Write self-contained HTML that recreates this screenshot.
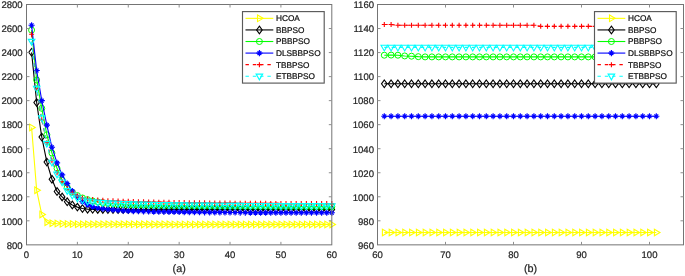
<!DOCTYPE html>
<html><head><meta charset="utf-8"><title>chart</title>
<style>html,body{margin:0;padding:0;background:#fff;}body{width:685px;height:276px;overflow:hidden;font-family:"Liberation Sans",sans-serif;}svg{display:block;will-change:transform;opacity:0.999;}text{text-rendering:geometricPrecision;stroke:#262626;stroke-width:0.22px;}</style>
</head><body>
<svg width="685" height="276" viewBox="0 0 685 276" font-family="'Liberation Sans', sans-serif">
<rect width="100%" height="100%" fill="#fff"/>
<g clip-path="none">
<path d="M31.59 127.44 L36.68 190.29 L41.77 214.45 L46.85 222.14 L51.94 223.22 L57.03 223.58 L62.12 223.82 L67.21 223.94 L72.3 224.06 L77.38 224.18 L82.47 224.21 L87.56 224.23 L92.65 224.26 L97.74 224.27 L102.83 224.29 L107.91 224.31 L113 224.32 L118.09 224.33 L123.18 224.34 L128.27 224.35 L133.36 224.36 L138.44 224.37 L143.53 224.37 L148.62 224.38 L153.71 224.38 L158.8 224.39 L163.89 224.39 L168.97 224.39 L174.06 224.4 L179.15 224.4 L184.24 224.4 L189.33 224.4 L194.42 224.41 L199.5 224.41 L204.59 224.41 L209.68 224.41 L214.77 224.41 L219.86 224.41 L224.95 224.41 L230.03 224.41 L235.12 224.42 L240.21 224.42 L245.3 224.42 L250.39 224.42 L255.48 224.42 L260.56 224.42 L265.65 224.42 L270.74 224.42 L275.83 224.42 L280.92 224.42 L286 224.42 L291.09 224.42 L296.18 224.42 L301.27 224.42 L306.36 224.42 L311.45 224.42 L316.54 224.42 L321.62 224.42 L326.71 224.42 L331.8 224.42" fill="none" stroke="#ffff00" stroke-width="1.1" stroke-linejoin="round"/>
<path d="M29.69 124.14 L35.29 127.44 L29.69 130.74 Z" fill="none" stroke="#ffff00" stroke-width="1.1"/>
<path d="M34.78 186.99 L40.38 190.29 L34.78 193.59 Z" fill="none" stroke="#ffff00" stroke-width="1.1"/>
<path d="M39.87 211.15 L45.47 214.45 L39.87 217.75 Z" fill="none" stroke="#ffff00" stroke-width="1.1"/>
<path d="M44.95 218.84 L50.55 222.14 L44.95 225.44 Z" fill="none" stroke="#ffff00" stroke-width="1.1"/>
<path d="M50.04 219.92 L55.64 223.22 L50.04 226.52 Z" fill="none" stroke="#ffff00" stroke-width="1.1"/>
<path d="M55.13 220.28 L60.73 223.58 L55.13 226.88 Z" fill="none" stroke="#ffff00" stroke-width="1.1"/>
<path d="M60.22 220.52 L65.82 223.82 L60.22 227.12 Z" fill="none" stroke="#ffff00" stroke-width="1.1"/>
<path d="M65.31 220.64 L70.91 223.94 L65.31 227.24 Z" fill="none" stroke="#ffff00" stroke-width="1.1"/>
<path d="M70.39 220.76 L76 224.06 L70.39 227.36 Z" fill="none" stroke="#ffff00" stroke-width="1.1"/>
<path d="M75.48 220.88 L81.08 224.18 L75.48 227.48 Z" fill="none" stroke="#ffff00" stroke-width="1.1"/>
<path d="M80.57 220.91 L86.17 224.21 L80.57 227.51 Z" fill="none" stroke="#ffff00" stroke-width="1.1"/>
<path d="M85.66 220.93 L91.26 224.23 L85.66 227.53 Z" fill="none" stroke="#ffff00" stroke-width="1.1"/>
<path d="M90.75 220.96 L96.35 224.26 L90.75 227.56 Z" fill="none" stroke="#ffff00" stroke-width="1.1"/>
<path d="M95.84 220.97 L101.44 224.27 L95.84 227.57 Z" fill="none" stroke="#ffff00" stroke-width="1.1"/>
<path d="M100.92 220.99 L106.53 224.29 L100.92 227.59 Z" fill="none" stroke="#ffff00" stroke-width="1.1"/>
<path d="M106.01 221.01 L111.61 224.31 L106.01 227.61 Z" fill="none" stroke="#ffff00" stroke-width="1.1"/>
<path d="M111.1 221.02 L116.7 224.32 L111.1 227.62 Z" fill="none" stroke="#ffff00" stroke-width="1.1"/>
<path d="M116.19 221.03 L121.79 224.33 L116.19 227.63 Z" fill="none" stroke="#ffff00" stroke-width="1.1"/>
<path d="M121.28 221.04 L126.88 224.34 L121.28 227.64 Z" fill="none" stroke="#ffff00" stroke-width="1.1"/>
<path d="M126.37 221.05 L131.97 224.35 L126.37 227.65 Z" fill="none" stroke="#ffff00" stroke-width="1.1"/>
<path d="M131.46 221.06 L137.06 224.36 L131.46 227.66 Z" fill="none" stroke="#ffff00" stroke-width="1.1"/>
<path d="M136.54 221.07 L142.14 224.37 L136.54 227.67 Z" fill="none" stroke="#ffff00" stroke-width="1.1"/>
<path d="M141.63 221.07 L147.23 224.37 L141.63 227.67 Z" fill="none" stroke="#ffff00" stroke-width="1.1"/>
<path d="M146.72 221.08 L152.32 224.38 L146.72 227.68 Z" fill="none" stroke="#ffff00" stroke-width="1.1"/>
<path d="M151.81 221.08 L157.41 224.38 L151.81 227.68 Z" fill="none" stroke="#ffff00" stroke-width="1.1"/>
<path d="M156.9 221.09 L162.5 224.39 L156.9 227.69 Z" fill="none" stroke="#ffff00" stroke-width="1.1"/>
<path d="M161.99 221.09 L167.59 224.39 L161.99 227.69 Z" fill="none" stroke="#ffff00" stroke-width="1.1"/>
<path d="M167.07 221.09 L172.67 224.39 L167.07 227.69 Z" fill="none" stroke="#ffff00" stroke-width="1.1"/>
<path d="M172.16 221.1 L177.76 224.4 L172.16 227.7 Z" fill="none" stroke="#ffff00" stroke-width="1.1"/>
<path d="M177.25 221.1 L182.85 224.4 L177.25 227.7 Z" fill="none" stroke="#ffff00" stroke-width="1.1"/>
<path d="M182.34 221.1 L187.94 224.4 L182.34 227.7 Z" fill="none" stroke="#ffff00" stroke-width="1.1"/>
<path d="M187.43 221.1 L193.03 224.4 L187.43 227.7 Z" fill="none" stroke="#ffff00" stroke-width="1.1"/>
<path d="M192.52 221.11 L198.12 224.41 L192.52 227.71 Z" fill="none" stroke="#ffff00" stroke-width="1.1"/>
<path d="M197.6 221.11 L203.2 224.41 L197.6 227.71 Z" fill="none" stroke="#ffff00" stroke-width="1.1"/>
<path d="M202.69 221.11 L208.29 224.41 L202.69 227.71 Z" fill="none" stroke="#ffff00" stroke-width="1.1"/>
<path d="M207.78 221.11 L213.38 224.41 L207.78 227.71 Z" fill="none" stroke="#ffff00" stroke-width="1.1"/>
<path d="M212.87 221.11 L218.47 224.41 L212.87 227.71 Z" fill="none" stroke="#ffff00" stroke-width="1.1"/>
<path d="M217.96 221.11 L223.56 224.41 L217.96 227.71 Z" fill="none" stroke="#ffff00" stroke-width="1.1"/>
<path d="M223.05 221.11 L228.65 224.41 L223.05 227.71 Z" fill="none" stroke="#ffff00" stroke-width="1.1"/>
<path d="M228.13 221.11 L233.73 224.41 L228.13 227.71 Z" fill="none" stroke="#ffff00" stroke-width="1.1"/>
<path d="M233.22 221.12 L238.82 224.42 L233.22 227.72 Z" fill="none" stroke="#ffff00" stroke-width="1.1"/>
<path d="M238.31 221.12 L243.91 224.42 L238.31 227.72 Z" fill="none" stroke="#ffff00" stroke-width="1.1"/>
<path d="M243.4 221.12 L249 224.42 L243.4 227.72 Z" fill="none" stroke="#ffff00" stroke-width="1.1"/>
<path d="M248.49 221.12 L254.09 224.42 L248.49 227.72 Z" fill="none" stroke="#ffff00" stroke-width="1.1"/>
<path d="M253.58 221.12 L259.18 224.42 L253.58 227.72 Z" fill="none" stroke="#ffff00" stroke-width="1.1"/>
<path d="M258.66 221.12 L264.26 224.42 L258.66 227.72 Z" fill="none" stroke="#ffff00" stroke-width="1.1"/>
<path d="M263.75 221.12 L269.35 224.42 L263.75 227.72 Z" fill="none" stroke="#ffff00" stroke-width="1.1"/>
<path d="M268.84 221.12 L274.44 224.42 L268.84 227.72 Z" fill="none" stroke="#ffff00" stroke-width="1.1"/>
<path d="M273.93 221.12 L279.53 224.42 L273.93 227.72 Z" fill="none" stroke="#ffff00" stroke-width="1.1"/>
<path d="M279.02 221.12 L284.62 224.42 L279.02 227.72 Z" fill="none" stroke="#ffff00" stroke-width="1.1"/>
<path d="M284.11 221.12 L289.7 224.42 L284.11 227.72 Z" fill="none" stroke="#ffff00" stroke-width="1.1"/>
<path d="M289.19 221.12 L294.79 224.42 L289.19 227.72 Z" fill="none" stroke="#ffff00" stroke-width="1.1"/>
<path d="M294.28 221.12 L299.88 224.42 L294.28 227.72 Z" fill="none" stroke="#ffff00" stroke-width="1.1"/>
<path d="M299.37 221.12 L304.97 224.42 L299.37 227.72 Z" fill="none" stroke="#ffff00" stroke-width="1.1"/>
<path d="M304.46 221.12 L310.06 224.42 L304.46 227.72 Z" fill="none" stroke="#ffff00" stroke-width="1.1"/>
<path d="M309.55 221.12 L315.15 224.42 L309.55 227.72 Z" fill="none" stroke="#ffff00" stroke-width="1.1"/>
<path d="M314.64 221.12 L320.24 224.42 L314.64 227.72 Z" fill="none" stroke="#ffff00" stroke-width="1.1"/>
<path d="M319.72 221.12 L325.32 224.42 L319.72 227.72 Z" fill="none" stroke="#ffff00" stroke-width="1.1"/>
<path d="M324.81 221.12 L330.41 224.42 L324.81 227.72 Z" fill="none" stroke="#ffff00" stroke-width="1.1"/>
<path d="M329.9 221.12 L335.5 224.42 L329.9 227.72 Z" fill="none" stroke="#ffff00" stroke-width="1.1"/>
<path d="M31.59 52.33 L36.68 102.56 L41.77 137.05 L46.85 162.05 L51.94 179.23 L57.03 191.49 L62.12 196.9 L67.21 201.71 L72.3 204.95 L77.38 207.12 L82.47 208.56 L87.56 209.16 L92.65 209.34 L97.74 209.4 L102.83 209.42 L107.91 209.44 L113 209.45 L118.09 209.46 L123.18 209.47 L128.27 209.48 L133.36 209.49 L138.44 209.49 L143.53 209.5 L148.62 209.5 L153.71 209.51 L158.8 209.51 L163.89 209.51 L168.97 209.51 L174.06 209.51 L179.15 209.51 L184.24 209.51 L189.33 209.52 L194.42 209.52 L199.5 209.52 L204.59 209.52 L209.68 209.52 L214.77 209.52 L219.86 209.52 L224.95 209.52 L230.03 209.52 L235.12 209.52 L240.21 209.52 L245.3 209.52 L250.39 209.52 L255.48 209.52 L260.56 209.52 L265.65 209.52 L270.74 209.52 L275.83 209.52 L280.92 209.52 L286 209.52 L291.09 209.52 L296.18 209.52 L301.27 209.52 L306.36 209.52 L311.45 209.52 L316.54 209.52 L321.62 209.52 L326.71 209.52 L331.8 209.52" fill="none" stroke="#000000" stroke-width="1.1" stroke-linejoin="round"/>
<path d="M31.59 48.53 L34.39 52.33 L31.59 56.13 L28.79 52.33 Z" fill="none" stroke="#000000" stroke-width="1.1"/>
<path d="M36.68 98.76 L39.48 102.56 L36.68 106.36 L33.88 102.56 Z" fill="none" stroke="#000000" stroke-width="1.1"/>
<path d="M41.77 133.25 L44.56 137.05 L41.77 140.85 L38.97 137.05 Z" fill="none" stroke="#000000" stroke-width="1.1"/>
<path d="M46.85 158.25 L49.65 162.05 L46.85 165.85 L44.05 162.05 Z" fill="none" stroke="#000000" stroke-width="1.1"/>
<path d="M51.94 175.43 L54.74 179.23 L51.94 183.03 L49.14 179.23 Z" fill="none" stroke="#000000" stroke-width="1.1"/>
<path d="M57.03 187.69 L59.83 191.49 L57.03 195.29 L54.23 191.49 Z" fill="none" stroke="#000000" stroke-width="1.1"/>
<path d="M62.12 193.1 L64.92 196.9 L62.12 200.7 L59.32 196.9 Z" fill="none" stroke="#000000" stroke-width="1.1"/>
<path d="M67.21 197.91 L70.01 201.71 L67.21 205.51 L64.41 201.71 Z" fill="none" stroke="#000000" stroke-width="1.1"/>
<path d="M72.3 201.15 L75.09 204.95 L72.3 208.75 L69.5 204.95 Z" fill="none" stroke="#000000" stroke-width="1.1"/>
<path d="M77.38 203.32 L80.18 207.12 L77.38 210.92 L74.58 207.12 Z" fill="none" stroke="#000000" stroke-width="1.1"/>
<path d="M82.47 204.76 L85.27 208.56 L82.47 212.36 L79.67 208.56 Z" fill="none" stroke="#000000" stroke-width="1.1"/>
<path d="M87.56 205.36 L90.36 209.16 L87.56 212.96 L84.76 209.16 Z" fill="none" stroke="#000000" stroke-width="1.1"/>
<path d="M92.65 205.54 L95.45 209.34 L92.65 213.14 L89.85 209.34 Z" fill="none" stroke="#000000" stroke-width="1.1"/>
<path d="M97.74 205.6 L100.54 209.4 L97.74 213.2 L94.94 209.4 Z" fill="none" stroke="#000000" stroke-width="1.1"/>
<path d="M102.83 205.62 L105.62 209.42 L102.83 213.22 L100.03 209.42 Z" fill="none" stroke="#000000" stroke-width="1.1"/>
<path d="M107.91 205.64 L110.71 209.44 L107.91 213.24 L105.11 209.44 Z" fill="none" stroke="#000000" stroke-width="1.1"/>
<path d="M113 205.65 L115.8 209.45 L113 213.25 L110.2 209.45 Z" fill="none" stroke="#000000" stroke-width="1.1"/>
<path d="M118.09 205.66 L120.89 209.46 L118.09 213.26 L115.29 209.46 Z" fill="none" stroke="#000000" stroke-width="1.1"/>
<path d="M123.18 205.67 L125.98 209.47 L123.18 213.27 L120.38 209.47 Z" fill="none" stroke="#000000" stroke-width="1.1"/>
<path d="M128.27 205.68 L131.07 209.48 L128.27 213.28 L125.47 209.48 Z" fill="none" stroke="#000000" stroke-width="1.1"/>
<path d="M133.36 205.69 L136.16 209.49 L133.36 213.29 L130.56 209.49 Z" fill="none" stroke="#000000" stroke-width="1.1"/>
<path d="M138.44 205.69 L141.24 209.49 L138.44 213.29 L135.64 209.49 Z" fill="none" stroke="#000000" stroke-width="1.1"/>
<path d="M143.53 205.7 L146.33 209.5 L143.53 213.3 L140.73 209.5 Z" fill="none" stroke="#000000" stroke-width="1.1"/>
<path d="M148.62 205.7 L151.42 209.5 L148.62 213.3 L145.82 209.5 Z" fill="none" stroke="#000000" stroke-width="1.1"/>
<path d="M153.71 205.71 L156.51 209.51 L153.71 213.31 L150.91 209.51 Z" fill="none" stroke="#000000" stroke-width="1.1"/>
<path d="M158.8 205.71 L161.6 209.51 L158.8 213.31 L156 209.51 Z" fill="none" stroke="#000000" stroke-width="1.1"/>
<path d="M163.89 205.71 L166.69 209.51 L163.89 213.31 L161.09 209.51 Z" fill="none" stroke="#000000" stroke-width="1.1"/>
<path d="M168.97 205.71 L171.77 209.51 L168.97 213.31 L166.17 209.51 Z" fill="none" stroke="#000000" stroke-width="1.1"/>
<path d="M174.06 205.71 L176.86 209.51 L174.06 213.31 L171.26 209.51 Z" fill="none" stroke="#000000" stroke-width="1.1"/>
<path d="M179.15 205.71 L181.95 209.51 L179.15 213.31 L176.35 209.51 Z" fill="none" stroke="#000000" stroke-width="1.1"/>
<path d="M184.24 205.71 L187.04 209.51 L184.24 213.31 L181.44 209.51 Z" fill="none" stroke="#000000" stroke-width="1.1"/>
<path d="M189.33 205.72 L192.13 209.52 L189.33 213.32 L186.53 209.52 Z" fill="none" stroke="#000000" stroke-width="1.1"/>
<path d="M194.42 205.72 L197.22 209.52 L194.42 213.32 L191.62 209.52 Z" fill="none" stroke="#000000" stroke-width="1.1"/>
<path d="M199.5 205.72 L202.3 209.52 L199.5 213.32 L196.7 209.52 Z" fill="none" stroke="#000000" stroke-width="1.1"/>
<path d="M204.59 205.72 L207.39 209.52 L204.59 213.32 L201.79 209.52 Z" fill="none" stroke="#000000" stroke-width="1.1"/>
<path d="M209.68 205.72 L212.48 209.52 L209.68 213.32 L206.88 209.52 Z" fill="none" stroke="#000000" stroke-width="1.1"/>
<path d="M214.77 205.72 L217.57 209.52 L214.77 213.32 L211.97 209.52 Z" fill="none" stroke="#000000" stroke-width="1.1"/>
<path d="M219.86 205.72 L222.66 209.52 L219.86 213.32 L217.06 209.52 Z" fill="none" stroke="#000000" stroke-width="1.1"/>
<path d="M224.95 205.72 L227.75 209.52 L224.95 213.32 L222.15 209.52 Z" fill="none" stroke="#000000" stroke-width="1.1"/>
<path d="M230.03 205.72 L232.83 209.52 L230.03 213.32 L227.23 209.52 Z" fill="none" stroke="#000000" stroke-width="1.1"/>
<path d="M235.12 205.72 L237.92 209.52 L235.12 213.32 L232.32 209.52 Z" fill="none" stroke="#000000" stroke-width="1.1"/>
<path d="M240.21 205.72 L243.01 209.52 L240.21 213.32 L237.41 209.52 Z" fill="none" stroke="#000000" stroke-width="1.1"/>
<path d="M245.3 205.72 L248.1 209.52 L245.3 213.32 L242.5 209.52 Z" fill="none" stroke="#000000" stroke-width="1.1"/>
<path d="M250.39 205.72 L253.19 209.52 L250.39 213.32 L247.59 209.52 Z" fill="none" stroke="#000000" stroke-width="1.1"/>
<path d="M255.48 205.72 L258.28 209.52 L255.48 213.32 L252.68 209.52 Z" fill="none" stroke="#000000" stroke-width="1.1"/>
<path d="M260.56 205.72 L263.36 209.52 L260.56 213.32 L257.76 209.52 Z" fill="none" stroke="#000000" stroke-width="1.1"/>
<path d="M265.65 205.72 L268.45 209.52 L265.65 213.32 L262.85 209.52 Z" fill="none" stroke="#000000" stroke-width="1.1"/>
<path d="M270.74 205.72 L273.54 209.52 L270.74 213.32 L267.94 209.52 Z" fill="none" stroke="#000000" stroke-width="1.1"/>
<path d="M275.83 205.72 L278.63 209.52 L275.83 213.32 L273.03 209.52 Z" fill="none" stroke="#000000" stroke-width="1.1"/>
<path d="M280.92 205.72 L283.72 209.52 L280.92 213.32 L278.12 209.52 Z" fill="none" stroke="#000000" stroke-width="1.1"/>
<path d="M286 205.72 L288.81 209.52 L286 213.32 L283.2 209.52 Z" fill="none" stroke="#000000" stroke-width="1.1"/>
<path d="M291.09 205.72 L293.89 209.52 L291.09 213.32 L288.29 209.52 Z" fill="none" stroke="#000000" stroke-width="1.1"/>
<path d="M296.18 205.72 L298.98 209.52 L296.18 213.32 L293.38 209.52 Z" fill="none" stroke="#000000" stroke-width="1.1"/>
<path d="M301.27 205.72 L304.07 209.52 L301.27 213.32 L298.47 209.52 Z" fill="none" stroke="#000000" stroke-width="1.1"/>
<path d="M306.36 205.72 L309.16 209.52 L306.36 213.32 L303.56 209.52 Z" fill="none" stroke="#000000" stroke-width="1.1"/>
<path d="M311.45 205.72 L314.25 209.52 L311.45 213.32 L308.65 209.52 Z" fill="none" stroke="#000000" stroke-width="1.1"/>
<path d="M316.54 205.72 L319.34 209.52 L316.54 213.32 L313.74 209.52 Z" fill="none" stroke="#000000" stroke-width="1.1"/>
<path d="M321.62 205.72 L324.42 209.52 L321.62 213.32 L318.82 209.52 Z" fill="none" stroke="#000000" stroke-width="1.1"/>
<path d="M326.71 205.72 L329.51 209.52 L326.71 213.32 L323.91 209.52 Z" fill="none" stroke="#000000" stroke-width="1.1"/>
<path d="M331.8 205.72 L334.6 209.52 L331.8 213.32 L329 209.52 Z" fill="none" stroke="#000000" stroke-width="1.1"/>
<path d="M31.59 30.1 L36.68 79.97 L41.77 108.33 L46.85 134.77 L51.94 153.04 L57.03 168.3 L62.12 179.96 L67.21 187.29 L72.3 192.33 L77.38 195.58 L82.47 197.98 L87.56 199.66 L92.65 200.99 L97.74 201.95 L102.83 202.79 L107.91 203.27 L113 203.75 L118.09 204.11 L123.18 204.47 L128.27 204.71 L133.36 204.83 L138.44 204.94 L143.53 205.04 L148.62 205.14 L153.71 205.24 L158.8 205.32 L163.89 205.41 L168.97 205.49 L174.06 205.56 L179.15 205.63 L184.24 205.7 L189.33 205.76 L194.42 205.82 L199.5 205.88 L204.59 205.93 L209.68 205.99 L214.77 206.03 L219.86 206.08 L224.95 206.12 L230.03 206.16 L235.12 206.2 L240.21 206.24 L245.3 206.27 L250.39 206.3 L255.48 206.34 L260.56 206.36 L265.65 206.39 L270.74 206.42 L275.83 206.44 L280.92 206.47 L286 206.49 L291.09 206.51 L296.18 206.53 L301.27 206.55 L306.36 206.57 L311.45 206.58 L316.54 206.6 L321.62 206.61 L326.71 206.63 L331.8 206.64" fill="none" stroke="#00ff00" stroke-width="1.1" stroke-linejoin="round"/>
<circle cx="31.59" cy="30.1" r="3" fill="none" stroke="#00ff00" stroke-width="1.0"/>
<circle cx="36.68" cy="79.97" r="3" fill="none" stroke="#00ff00" stroke-width="1.0"/>
<circle cx="41.77" cy="108.33" r="3" fill="none" stroke="#00ff00" stroke-width="1.0"/>
<circle cx="46.85" cy="134.77" r="3" fill="none" stroke="#00ff00" stroke-width="1.0"/>
<circle cx="51.94" cy="153.04" r="3" fill="none" stroke="#00ff00" stroke-width="1.0"/>
<circle cx="57.03" cy="168.3" r="3" fill="none" stroke="#00ff00" stroke-width="1.0"/>
<circle cx="62.12" cy="179.96" r="3" fill="none" stroke="#00ff00" stroke-width="1.0"/>
<circle cx="67.21" cy="187.29" r="3" fill="none" stroke="#00ff00" stroke-width="1.0"/>
<circle cx="72.3" cy="192.33" r="3" fill="none" stroke="#00ff00" stroke-width="1.0"/>
<circle cx="77.38" cy="195.58" r="3" fill="none" stroke="#00ff00" stroke-width="1.0"/>
<circle cx="82.47" cy="197.98" r="3" fill="none" stroke="#00ff00" stroke-width="1.0"/>
<circle cx="87.56" cy="199.66" r="3" fill="none" stroke="#00ff00" stroke-width="1.0"/>
<circle cx="92.65" cy="200.99" r="3" fill="none" stroke="#00ff00" stroke-width="1.0"/>
<circle cx="97.74" cy="201.95" r="3" fill="none" stroke="#00ff00" stroke-width="1.0"/>
<circle cx="102.83" cy="202.79" r="3" fill="none" stroke="#00ff00" stroke-width="1.0"/>
<circle cx="107.91" cy="203.27" r="3" fill="none" stroke="#00ff00" stroke-width="1.0"/>
<circle cx="113" cy="203.75" r="3" fill="none" stroke="#00ff00" stroke-width="1.0"/>
<circle cx="118.09" cy="204.11" r="3" fill="none" stroke="#00ff00" stroke-width="1.0"/>
<circle cx="123.18" cy="204.47" r="3" fill="none" stroke="#00ff00" stroke-width="1.0"/>
<circle cx="128.27" cy="204.71" r="3" fill="none" stroke="#00ff00" stroke-width="1.0"/>
<circle cx="133.36" cy="204.83" r="3" fill="none" stroke="#00ff00" stroke-width="1.0"/>
<circle cx="138.44" cy="204.94" r="3" fill="none" stroke="#00ff00" stroke-width="1.0"/>
<circle cx="143.53" cy="205.04" r="3" fill="none" stroke="#00ff00" stroke-width="1.0"/>
<circle cx="148.62" cy="205.14" r="3" fill="none" stroke="#00ff00" stroke-width="1.0"/>
<circle cx="153.71" cy="205.24" r="3" fill="none" stroke="#00ff00" stroke-width="1.0"/>
<circle cx="158.8" cy="205.32" r="3" fill="none" stroke="#00ff00" stroke-width="1.0"/>
<circle cx="163.89" cy="205.41" r="3" fill="none" stroke="#00ff00" stroke-width="1.0"/>
<circle cx="168.97" cy="205.49" r="3" fill="none" stroke="#00ff00" stroke-width="1.0"/>
<circle cx="174.06" cy="205.56" r="3" fill="none" stroke="#00ff00" stroke-width="1.0"/>
<circle cx="179.15" cy="205.63" r="3" fill="none" stroke="#00ff00" stroke-width="1.0"/>
<circle cx="184.24" cy="205.7" r="3" fill="none" stroke="#00ff00" stroke-width="1.0"/>
<circle cx="189.33" cy="205.76" r="3" fill="none" stroke="#00ff00" stroke-width="1.0"/>
<circle cx="194.42" cy="205.82" r="3" fill="none" stroke="#00ff00" stroke-width="1.0"/>
<circle cx="199.5" cy="205.88" r="3" fill="none" stroke="#00ff00" stroke-width="1.0"/>
<circle cx="204.59" cy="205.93" r="3" fill="none" stroke="#00ff00" stroke-width="1.0"/>
<circle cx="209.68" cy="205.99" r="3" fill="none" stroke="#00ff00" stroke-width="1.0"/>
<circle cx="214.77" cy="206.03" r="3" fill="none" stroke="#00ff00" stroke-width="1.0"/>
<circle cx="219.86" cy="206.08" r="3" fill="none" stroke="#00ff00" stroke-width="1.0"/>
<circle cx="224.95" cy="206.12" r="3" fill="none" stroke="#00ff00" stroke-width="1.0"/>
<circle cx="230.03" cy="206.16" r="3" fill="none" stroke="#00ff00" stroke-width="1.0"/>
<circle cx="235.12" cy="206.2" r="3" fill="none" stroke="#00ff00" stroke-width="1.0"/>
<circle cx="240.21" cy="206.24" r="3" fill="none" stroke="#00ff00" stroke-width="1.0"/>
<circle cx="245.3" cy="206.27" r="3" fill="none" stroke="#00ff00" stroke-width="1.0"/>
<circle cx="250.39" cy="206.3" r="3" fill="none" stroke="#00ff00" stroke-width="1.0"/>
<circle cx="255.48" cy="206.34" r="3" fill="none" stroke="#00ff00" stroke-width="1.0"/>
<circle cx="260.56" cy="206.36" r="3" fill="none" stroke="#00ff00" stroke-width="1.0"/>
<circle cx="265.65" cy="206.39" r="3" fill="none" stroke="#00ff00" stroke-width="1.0"/>
<circle cx="270.74" cy="206.42" r="3" fill="none" stroke="#00ff00" stroke-width="1.0"/>
<circle cx="275.83" cy="206.44" r="3" fill="none" stroke="#00ff00" stroke-width="1.0"/>
<circle cx="280.92" cy="206.47" r="3" fill="none" stroke="#00ff00" stroke-width="1.0"/>
<circle cx="286" cy="206.49" r="3" fill="none" stroke="#00ff00" stroke-width="1.0"/>
<circle cx="291.09" cy="206.51" r="3" fill="none" stroke="#00ff00" stroke-width="1.0"/>
<circle cx="296.18" cy="206.53" r="3" fill="none" stroke="#00ff00" stroke-width="1.0"/>
<circle cx="301.27" cy="206.55" r="3" fill="none" stroke="#00ff00" stroke-width="1.0"/>
<circle cx="306.36" cy="206.57" r="3" fill="none" stroke="#00ff00" stroke-width="1.0"/>
<circle cx="311.45" cy="206.58" r="3" fill="none" stroke="#00ff00" stroke-width="1.0"/>
<circle cx="316.54" cy="206.6" r="3" fill="none" stroke="#00ff00" stroke-width="1.0"/>
<circle cx="321.62" cy="206.61" r="3" fill="none" stroke="#00ff00" stroke-width="1.0"/>
<circle cx="326.71" cy="206.63" r="3" fill="none" stroke="#00ff00" stroke-width="1.0"/>
<circle cx="331.8" cy="206.64" r="3" fill="none" stroke="#00ff00" stroke-width="1.0"/>
<path d="M31.59 25.29 L36.68 70.48 L41.77 100.64 L46.85 125.16 L51.94 147.27 L57.03 162.89 L62.12 174.91 L67.21 183.68 L72.3 191.01 L77.38 196.78 L82.47 201.59 L87.56 204.59 L92.65 206.63 L97.74 207.96 L102.83 208.8 L107.91 209.4 L113 209.88 L118.09 210.36 L123.18 210.72 L128.27 210.96 L133.36 211.11 L138.44 211.25 L143.53 211.37 L148.62 211.49 L153.71 211.6 L158.8 211.69 L163.89 211.78 L168.97 211.87 L174.06 211.94 L179.15 212.01 L184.24 212.08 L189.33 212.14 L194.42 212.19 L199.5 212.24 L204.59 212.29 L209.68 212.33 L214.77 212.37 L219.86 212.41 L224.95 212.44 L230.03 212.47 L235.12 212.5 L240.21 212.53 L245.3 212.55 L250.39 212.57 L255.48 212.59 L260.56 212.61 L265.65 212.63 L270.74 212.64 L275.83 212.66 L280.92 212.67 L286 212.68 L291.09 212.69 L296.18 212.7 L301.27 212.71 L306.36 212.72 L311.45 212.73 L316.54 212.74 L321.62 212.74 L326.71 212.75 L331.8 212.76" fill="none" stroke="#0000ff" stroke-width="1.1" stroke-linejoin="round"/>
<path d="M31.59 22.19 V28.39 M28.49 25.29 H34.69 M29.69 23.39 L33.49 27.19 M29.69 27.19 L33.49 23.39" fill="none" stroke="#0000ff" stroke-width="1.15"/>
<path d="M36.68 67.38 V73.58 M33.58 70.48 H39.78 M34.78 68.58 L38.58 72.38 M34.78 72.38 L38.58 68.58" fill="none" stroke="#0000ff" stroke-width="1.15"/>
<path d="M41.77 97.54 V103.74 M38.66 100.64 H44.87 M39.87 98.74 L43.66 102.54 M39.87 102.54 L43.66 98.74" fill="none" stroke="#0000ff" stroke-width="1.15"/>
<path d="M46.85 122.06 V128.26 M43.75 125.16 H49.95 M44.95 123.26 L48.75 127.06 M44.95 127.06 L48.75 123.26" fill="none" stroke="#0000ff" stroke-width="1.15"/>
<path d="M51.94 144.17 V150.37 M48.84 147.27 H55.04 M50.04 145.37 L53.84 149.17 M50.04 149.17 L53.84 145.37" fill="none" stroke="#0000ff" stroke-width="1.15"/>
<path d="M57.03 159.79 V165.99 M53.93 162.89 H60.13 M55.13 160.99 L58.93 164.79 M55.13 164.79 L58.93 160.99" fill="none" stroke="#0000ff" stroke-width="1.15"/>
<path d="M62.12 171.81 V178.01 M59.02 174.91 H65.22 M60.22 173.01 L64.02 176.81 M60.22 176.81 L64.02 173.01" fill="none" stroke="#0000ff" stroke-width="1.15"/>
<path d="M67.21 180.58 V186.78 M64.11 183.68 H70.31 M65.31 181.78 L69.11 185.58 M65.31 185.58 L69.11 181.78" fill="none" stroke="#0000ff" stroke-width="1.15"/>
<path d="M72.3 187.91 V194.11 M69.2 191.01 H75.39 M70.39 189.11 L74.2 192.91 M70.39 192.91 L74.2 189.11" fill="none" stroke="#0000ff" stroke-width="1.15"/>
<path d="M77.38 193.68 V199.88 M74.28 196.78 H80.48 M75.48 194.88 L79.28 198.68 M75.48 198.68 L79.28 194.88" fill="none" stroke="#0000ff" stroke-width="1.15"/>
<path d="M82.47 198.49 V204.69 M79.37 201.59 H85.57 M80.57 199.69 L84.37 203.49 M80.57 203.49 L84.37 199.69" fill="none" stroke="#0000ff" stroke-width="1.15"/>
<path d="M87.56 201.49 V207.69 M84.46 204.59 H90.66 M85.66 202.69 L89.46 206.49 M85.66 206.49 L89.46 202.69" fill="none" stroke="#0000ff" stroke-width="1.15"/>
<path d="M92.65 203.53 V209.73 M89.55 206.63 H95.75 M90.75 204.73 L94.55 208.53 M90.75 208.53 L94.55 204.73" fill="none" stroke="#0000ff" stroke-width="1.15"/>
<path d="M97.74 204.86 V211.06 M94.64 207.96 H100.84 M95.84 206.06 L99.64 209.86 M95.84 209.86 L99.64 206.06" fill="none" stroke="#0000ff" stroke-width="1.15"/>
<path d="M102.83 205.7 V211.9 M99.73 208.8 H105.92 M100.92 206.9 L104.73 210.7 M100.92 210.7 L104.73 206.9" fill="none" stroke="#0000ff" stroke-width="1.15"/>
<path d="M107.91 206.3 V212.5 M104.81 209.4 H111.01 M106.01 207.5 L109.81 211.3 M106.01 211.3 L109.81 207.5" fill="none" stroke="#0000ff" stroke-width="1.15"/>
<path d="M113 206.78 V212.98 M109.9 209.88 H116.1 M111.1 207.98 L114.9 211.78 M111.1 211.78 L114.9 207.98" fill="none" stroke="#0000ff" stroke-width="1.15"/>
<path d="M118.09 207.26 V213.46 M114.99 210.36 H121.19 M116.19 208.46 L119.99 212.26 M116.19 212.26 L119.99 208.46" fill="none" stroke="#0000ff" stroke-width="1.15"/>
<path d="M123.18 207.62 V213.82 M120.08 210.72 H126.28 M121.28 208.82 L125.08 212.62 M121.28 212.62 L125.08 208.82" fill="none" stroke="#0000ff" stroke-width="1.15"/>
<path d="M128.27 207.86 V214.06 M125.17 210.96 H131.37 M126.37 209.06 L130.17 212.86 M126.37 212.86 L130.17 209.06" fill="none" stroke="#0000ff" stroke-width="1.15"/>
<path d="M133.36 208.01 V214.21 M130.26 211.11 H136.46 M131.46 209.21 L135.26 213.01 M131.46 213.01 L135.26 209.21" fill="none" stroke="#0000ff" stroke-width="1.15"/>
<path d="M138.44 208.15 V214.35 M135.34 211.25 H141.54 M136.54 209.35 L140.34 213.15 M136.54 213.15 L140.34 209.35" fill="none" stroke="#0000ff" stroke-width="1.15"/>
<path d="M143.53 208.27 V214.47 M140.43 211.37 H146.63 M141.63 209.47 L145.43 213.27 M141.63 213.27 L145.43 209.47" fill="none" stroke="#0000ff" stroke-width="1.15"/>
<path d="M148.62 208.39 V214.59 M145.52 211.49 H151.72 M146.72 209.59 L150.52 213.39 M146.72 213.39 L150.52 209.59" fill="none" stroke="#0000ff" stroke-width="1.15"/>
<path d="M153.71 208.5 V214.7 M150.61 211.6 H156.81 M151.81 209.7 L155.61 213.5 M151.81 213.5 L155.61 209.7" fill="none" stroke="#0000ff" stroke-width="1.15"/>
<path d="M158.8 208.59 V214.79 M155.7 211.69 H161.9 M156.9 209.79 L160.7 213.59 M156.9 213.59 L160.7 209.79" fill="none" stroke="#0000ff" stroke-width="1.15"/>
<path d="M163.89 208.68 V214.88 M160.79 211.78 H166.99 M161.99 209.88 L165.79 213.68 M161.99 213.68 L165.79 209.88" fill="none" stroke="#0000ff" stroke-width="1.15"/>
<path d="M168.97 208.77 V214.97 M165.87 211.87 H172.07 M167.07 209.97 L170.87 213.77 M167.07 213.77 L170.87 209.97" fill="none" stroke="#0000ff" stroke-width="1.15"/>
<path d="M174.06 208.84 V215.04 M170.96 211.94 H177.16 M172.16 210.04 L175.96 213.84 M172.16 213.84 L175.96 210.04" fill="none" stroke="#0000ff" stroke-width="1.15"/>
<path d="M179.15 208.91 V215.11 M176.05 212.01 H182.25 M177.25 210.11 L181.05 213.91 M177.25 213.91 L181.05 210.11" fill="none" stroke="#0000ff" stroke-width="1.15"/>
<path d="M184.24 208.98 V215.18 M181.14 212.08 H187.34 M182.34 210.18 L186.14 213.98 M182.34 213.98 L186.14 210.18" fill="none" stroke="#0000ff" stroke-width="1.15"/>
<path d="M189.33 209.04 V215.24 M186.23 212.14 H192.43 M187.43 210.24 L191.23 214.04 M187.43 214.04 L191.23 210.24" fill="none" stroke="#0000ff" stroke-width="1.15"/>
<path d="M194.42 209.09 V215.29 M191.32 212.19 H197.52 M192.52 210.29 L196.32 214.09 M192.52 214.09 L196.32 210.29" fill="none" stroke="#0000ff" stroke-width="1.15"/>
<path d="M199.5 209.14 V215.34 M196.4 212.24 H202.6 M197.6 210.34 L201.4 214.14 M197.6 214.14 L201.4 210.34" fill="none" stroke="#0000ff" stroke-width="1.15"/>
<path d="M204.59 209.19 V215.39 M201.49 212.29 H207.69 M202.69 210.39 L206.49 214.19 M202.69 214.19 L206.49 210.39" fill="none" stroke="#0000ff" stroke-width="1.15"/>
<path d="M209.68 209.23 V215.43 M206.58 212.33 H212.78 M207.78 210.43 L211.58 214.23 M207.78 214.23 L211.58 210.43" fill="none" stroke="#0000ff" stroke-width="1.15"/>
<path d="M214.77 209.27 V215.47 M211.67 212.37 H217.87 M212.87 210.47 L216.67 214.27 M212.87 214.27 L216.67 210.47" fill="none" stroke="#0000ff" stroke-width="1.15"/>
<path d="M219.86 209.31 V215.51 M216.76 212.41 H222.96 M217.96 210.51 L221.76 214.31 M217.96 214.31 L221.76 210.51" fill="none" stroke="#0000ff" stroke-width="1.15"/>
<path d="M224.95 209.34 V215.54 M221.85 212.44 H228.05 M223.05 210.54 L226.85 214.34 M223.05 214.34 L226.85 210.54" fill="none" stroke="#0000ff" stroke-width="1.15"/>
<path d="M230.03 209.37 V215.57 M226.93 212.47 H233.13 M228.13 210.57 L231.93 214.37 M228.13 214.37 L231.93 210.57" fill="none" stroke="#0000ff" stroke-width="1.15"/>
<path d="M235.12 209.4 V215.6 M232.02 212.5 H238.22 M233.22 210.6 L237.02 214.4 M233.22 214.4 L237.02 210.6" fill="none" stroke="#0000ff" stroke-width="1.15"/>
<path d="M240.21 209.43 V215.63 M237.11 212.53 H243.31 M238.31 210.63 L242.11 214.43 M238.31 214.43 L242.11 210.63" fill="none" stroke="#0000ff" stroke-width="1.15"/>
<path d="M245.3 209.45 V215.65 M242.2 212.55 H248.4 M243.4 210.65 L247.2 214.45 M243.4 214.45 L247.2 210.65" fill="none" stroke="#0000ff" stroke-width="1.15"/>
<path d="M250.39 209.47 V215.67 M247.29 212.57 H253.49 M248.49 210.67 L252.29 214.47 M248.49 214.47 L252.29 210.67" fill="none" stroke="#0000ff" stroke-width="1.15"/>
<path d="M255.48 209.49 V215.69 M252.38 212.59 H258.58 M253.58 210.69 L257.38 214.49 M253.58 214.49 L257.38 210.69" fill="none" stroke="#0000ff" stroke-width="1.15"/>
<path d="M260.56 209.51 V215.71 M257.46 212.61 H263.66 M258.66 210.71 L262.46 214.51 M258.66 214.51 L262.46 210.71" fill="none" stroke="#0000ff" stroke-width="1.15"/>
<path d="M265.65 209.53 V215.73 M262.55 212.63 H268.75 M263.75 210.73 L267.55 214.53 M263.75 214.53 L267.55 210.73" fill="none" stroke="#0000ff" stroke-width="1.15"/>
<path d="M270.74 209.54 V215.74 M267.64 212.64 H273.84 M268.84 210.74 L272.64 214.54 M268.84 214.54 L272.64 210.74" fill="none" stroke="#0000ff" stroke-width="1.15"/>
<path d="M275.83 209.56 V215.76 M272.73 212.66 H278.93 M273.93 210.76 L277.73 214.56 M273.93 214.56 L277.73 210.76" fill="none" stroke="#0000ff" stroke-width="1.15"/>
<path d="M280.92 209.57 V215.77 M277.82 212.67 H284.02 M279.02 210.77 L282.82 214.57 M279.02 214.57 L282.82 210.77" fill="none" stroke="#0000ff" stroke-width="1.15"/>
<path d="M286 209.58 V215.78 M282.9 212.68 H289.11 M284.11 210.78 L287.9 214.58 M284.11 214.58 L287.9 210.78" fill="none" stroke="#0000ff" stroke-width="1.15"/>
<path d="M291.09 209.59 V215.79 M287.99 212.69 H294.19 M289.19 210.79 L292.99 214.59 M289.19 214.59 L292.99 210.79" fill="none" stroke="#0000ff" stroke-width="1.15"/>
<path d="M296.18 209.6 V215.8 M293.08 212.7 H299.28 M294.28 210.8 L298.08 214.6 M294.28 214.6 L298.08 210.8" fill="none" stroke="#0000ff" stroke-width="1.15"/>
<path d="M301.27 209.61 V215.81 M298.17 212.71 H304.37 M299.37 210.81 L303.17 214.61 M299.37 214.61 L303.17 210.81" fill="none" stroke="#0000ff" stroke-width="1.15"/>
<path d="M306.36 209.62 V215.82 M303.26 212.72 H309.46 M304.46 210.82 L308.26 214.62 M304.46 214.62 L308.26 210.82" fill="none" stroke="#0000ff" stroke-width="1.15"/>
<path d="M311.45 209.63 V215.83 M308.35 212.73 H314.55 M309.55 210.83 L313.35 214.63 M309.55 214.63 L313.35 210.83" fill="none" stroke="#0000ff" stroke-width="1.15"/>
<path d="M316.54 209.64 V215.84 M313.44 212.74 H319.64 M314.64 210.84 L318.44 214.64 M314.64 214.64 L318.44 210.84" fill="none" stroke="#0000ff" stroke-width="1.15"/>
<path d="M321.62 209.64 V215.84 M318.52 212.74 H324.72 M319.72 210.84 L323.52 214.64 M319.72 214.64 L323.52 210.84" fill="none" stroke="#0000ff" stroke-width="1.15"/>
<path d="M326.71 209.65 V215.85 M323.61 212.75 H329.81 M324.81 210.85 L328.61 214.65 M324.81 214.65 L328.61 210.85" fill="none" stroke="#0000ff" stroke-width="1.15"/>
<path d="M331.8 209.66 V215.86 M328.7 212.76 H334.9 M329.9 210.86 L333.7 214.66 M329.9 214.66 L333.7 210.86" fill="none" stroke="#0000ff" stroke-width="1.15"/>
<path d="M31.59 34.18 L36.68 88.62 L41.77 119.87 L46.85 142.7 L51.94 160.73 L57.03 172.75 L62.12 181.76 L67.21 188.61 L72.3 192.93 L77.38 195.94 L82.47 198.1 L87.56 198.94 L92.65 199.54 L97.74 199.9 L102.83 200.27 L107.91 200.63 L113 200.83 L118.09 201.02 L123.18 201.19 L128.27 201.36 L133.36 201.51 L138.44 201.66 L143.53 201.79 L148.62 201.92 L153.71 202.04 L158.8 202.15 L163.89 202.25 L168.97 202.35 L174.06 202.44 L179.15 202.52 L184.24 202.6 L189.33 202.67 L194.42 202.74 L199.5 202.81 L204.59 202.87 L209.68 202.93 L214.77 202.98 L219.86 203.03 L224.95 203.08 L230.03 203.12 L235.12 203.16 L240.21 203.2 L245.3 203.23 L250.39 203.27 L255.48 203.3 L260.56 203.33 L265.65 203.35 L270.74 203.38 L275.83 203.4 L280.92 203.43 L286 203.45 L291.09 203.47 L296.18 203.48 L301.27 203.5 L306.36 203.52 L311.45 203.53 L316.54 203.55 L321.62 203.56 L326.71 203.57 L331.8 203.58" fill="none" stroke="#ff0000" stroke-width="1.1" stroke-dasharray="3.4 3.9" stroke-linejoin="round"/>
<path d="M31.59 31.68 V36.68 M29.09 34.18 H34.09" fill="none" stroke="#ff0000" stroke-width="1.1"/>
<path d="M36.68 86.12 V91.12 M34.18 88.62 H39.18" fill="none" stroke="#ff0000" stroke-width="1.1"/>
<path d="M41.77 117.37 V122.37 M39.27 119.87 H44.27" fill="none" stroke="#ff0000" stroke-width="1.1"/>
<path d="M46.85 140.2 V145.2 M44.35 142.7 H49.35" fill="none" stroke="#ff0000" stroke-width="1.1"/>
<path d="M51.94 158.23 V163.23 M49.44 160.73 H54.44" fill="none" stroke="#ff0000" stroke-width="1.1"/>
<path d="M57.03 170.25 V175.25 M54.53 172.75 H59.53" fill="none" stroke="#ff0000" stroke-width="1.1"/>
<path d="M62.12 179.26 V184.26 M59.62 181.76 H64.62" fill="none" stroke="#ff0000" stroke-width="1.1"/>
<path d="M67.21 186.11 V191.11 M64.71 188.61 H69.71" fill="none" stroke="#ff0000" stroke-width="1.1"/>
<path d="M72.3 190.43 V195.43 M69.8 192.93 H74.8" fill="none" stroke="#ff0000" stroke-width="1.1"/>
<path d="M77.38 193.44 V198.44 M74.88 195.94 H79.88" fill="none" stroke="#ff0000" stroke-width="1.1"/>
<path d="M82.47 195.6 V200.6 M79.97 198.1 H84.97" fill="none" stroke="#ff0000" stroke-width="1.1"/>
<path d="M87.56 196.44 V201.44 M85.06 198.94 H90.06" fill="none" stroke="#ff0000" stroke-width="1.1"/>
<path d="M92.65 197.04 V202.04 M90.15 199.54 H95.15" fill="none" stroke="#ff0000" stroke-width="1.1"/>
<path d="M97.74 197.4 V202.4 M95.24 199.9 H100.24" fill="none" stroke="#ff0000" stroke-width="1.1"/>
<path d="M102.83 197.77 V202.77 M100.33 200.27 H105.33" fill="none" stroke="#ff0000" stroke-width="1.1"/>
<path d="M107.91 198.13 V203.13 M105.41 200.63 H110.41" fill="none" stroke="#ff0000" stroke-width="1.1"/>
<path d="M113 198.33 V203.33 M110.5 200.83 H115.5" fill="none" stroke="#ff0000" stroke-width="1.1"/>
<path d="M118.09 198.52 V203.52 M115.59 201.02 H120.59" fill="none" stroke="#ff0000" stroke-width="1.1"/>
<path d="M123.18 198.69 V203.69 M120.68 201.19 H125.68" fill="none" stroke="#ff0000" stroke-width="1.1"/>
<path d="M128.27 198.86 V203.86 M125.77 201.36 H130.77" fill="none" stroke="#ff0000" stroke-width="1.1"/>
<path d="M133.36 199.01 V204.01 M130.86 201.51 H135.86" fill="none" stroke="#ff0000" stroke-width="1.1"/>
<path d="M138.44 199.16 V204.16 M135.94 201.66 H140.94" fill="none" stroke="#ff0000" stroke-width="1.1"/>
<path d="M143.53 199.29 V204.29 M141.03 201.79 H146.03" fill="none" stroke="#ff0000" stroke-width="1.1"/>
<path d="M148.62 199.42 V204.42 M146.12 201.92 H151.12" fill="none" stroke="#ff0000" stroke-width="1.1"/>
<path d="M153.71 199.54 V204.54 M151.21 202.04 H156.21" fill="none" stroke="#ff0000" stroke-width="1.1"/>
<path d="M158.8 199.65 V204.65 M156.3 202.15 H161.3" fill="none" stroke="#ff0000" stroke-width="1.1"/>
<path d="M163.89 199.75 V204.75 M161.39 202.25 H166.39" fill="none" stroke="#ff0000" stroke-width="1.1"/>
<path d="M168.97 199.85 V204.85 M166.47 202.35 H171.47" fill="none" stroke="#ff0000" stroke-width="1.1"/>
<path d="M174.06 199.94 V204.94 M171.56 202.44 H176.56" fill="none" stroke="#ff0000" stroke-width="1.1"/>
<path d="M179.15 200.02 V205.02 M176.65 202.52 H181.65" fill="none" stroke="#ff0000" stroke-width="1.1"/>
<path d="M184.24 200.1 V205.1 M181.74 202.6 H186.74" fill="none" stroke="#ff0000" stroke-width="1.1"/>
<path d="M189.33 200.17 V205.17 M186.83 202.67 H191.83" fill="none" stroke="#ff0000" stroke-width="1.1"/>
<path d="M194.42 200.24 V205.24 M191.92 202.74 H196.92" fill="none" stroke="#ff0000" stroke-width="1.1"/>
<path d="M199.5 200.31 V205.31 M197 202.81 H202" fill="none" stroke="#ff0000" stroke-width="1.1"/>
<path d="M204.59 200.37 V205.37 M202.09 202.87 H207.09" fill="none" stroke="#ff0000" stroke-width="1.1"/>
<path d="M209.68 200.43 V205.43 M207.18 202.93 H212.18" fill="none" stroke="#ff0000" stroke-width="1.1"/>
<path d="M214.77 200.48 V205.48 M212.27 202.98 H217.27" fill="none" stroke="#ff0000" stroke-width="1.1"/>
<path d="M219.86 200.53 V205.53 M217.36 203.03 H222.36" fill="none" stroke="#ff0000" stroke-width="1.1"/>
<path d="M224.95 200.58 V205.58 M222.45 203.08 H227.45" fill="none" stroke="#ff0000" stroke-width="1.1"/>
<path d="M230.03 200.62 V205.62 M227.53 203.12 H232.53" fill="none" stroke="#ff0000" stroke-width="1.1"/>
<path d="M235.12 200.66 V205.66 M232.62 203.16 H237.62" fill="none" stroke="#ff0000" stroke-width="1.1"/>
<path d="M240.21 200.7 V205.7 M237.71 203.2 H242.71" fill="none" stroke="#ff0000" stroke-width="1.1"/>
<path d="M245.3 200.73 V205.73 M242.8 203.23 H247.8" fill="none" stroke="#ff0000" stroke-width="1.1"/>
<path d="M250.39 200.77 V205.77 M247.89 203.27 H252.89" fill="none" stroke="#ff0000" stroke-width="1.1"/>
<path d="M255.48 200.8 V205.8 M252.98 203.3 H257.98" fill="none" stroke="#ff0000" stroke-width="1.1"/>
<path d="M260.56 200.83 V205.83 M258.06 203.33 H263.06" fill="none" stroke="#ff0000" stroke-width="1.1"/>
<path d="M265.65 200.85 V205.85 M263.15 203.35 H268.15" fill="none" stroke="#ff0000" stroke-width="1.1"/>
<path d="M270.74 200.88 V205.88 M268.24 203.38 H273.24" fill="none" stroke="#ff0000" stroke-width="1.1"/>
<path d="M275.83 200.9 V205.9 M273.33 203.4 H278.33" fill="none" stroke="#ff0000" stroke-width="1.1"/>
<path d="M280.92 200.93 V205.93 M278.42 203.43 H283.42" fill="none" stroke="#ff0000" stroke-width="1.1"/>
<path d="M286 200.95 V205.95 M283.5 203.45 H288.5" fill="none" stroke="#ff0000" stroke-width="1.1"/>
<path d="M291.09 200.97 V205.97 M288.59 203.47 H293.59" fill="none" stroke="#ff0000" stroke-width="1.1"/>
<path d="M296.18 200.98 V205.98 M293.68 203.48 H298.68" fill="none" stroke="#ff0000" stroke-width="1.1"/>
<path d="M301.27 201 V206 M298.77 203.5 H303.77" fill="none" stroke="#ff0000" stroke-width="1.1"/>
<path d="M306.36 201.02 V206.02 M303.86 203.52 H308.86" fill="none" stroke="#ff0000" stroke-width="1.1"/>
<path d="M311.45 201.03 V206.03 M308.95 203.53 H313.95" fill="none" stroke="#ff0000" stroke-width="1.1"/>
<path d="M316.54 201.05 V206.05 M314.04 203.55 H319.04" fill="none" stroke="#ff0000" stroke-width="1.1"/>
<path d="M321.62 201.06 V206.06 M319.12 203.56 H324.12" fill="none" stroke="#ff0000" stroke-width="1.1"/>
<path d="M326.71 201.07 V206.07 M324.21 203.57 H329.21" fill="none" stroke="#ff0000" stroke-width="1.1"/>
<path d="M331.8 201.08 V206.08 M329.3 203.58 H334.3" fill="none" stroke="#ff0000" stroke-width="1.1"/>
<path d="M31.59 41.51 L36.68 88.38 L41.77 117.83 L46.85 143.54 L51.94 162.41 L57.03 174.19 L62.12 182.12 L67.21 190.77 L72.3 195.34 L77.38 198.22 L82.47 200.14 L87.56 201.23 L92.65 201.83 L97.74 202.31 L102.83 202.67 L107.91 203.03 L113 203.27 L118.09 203.47 L123.18 203.65 L128.27 203.82 L133.36 203.98 L138.44 204.12 L143.53 204.26 L148.62 204.38 L153.71 204.5 L158.8 204.6 L163.89 204.7 L168.97 204.79 L174.06 204.88 L179.15 204.96 L184.24 205.03 L189.33 205.1 L194.42 205.16 L199.5 205.22 L204.59 205.27 L209.68 205.32 L214.77 205.36 L219.86 205.41 L224.95 205.45 L230.03 205.48 L235.12 205.52 L240.21 205.55 L245.3 205.58 L250.39 205.6 L255.48 205.63 L260.56 205.65 L265.65 205.67 L270.74 205.69 L275.83 205.71 L280.92 205.73 L286 205.74 L291.09 205.76 L296.18 205.77 L301.27 205.78 L306.36 205.79 L311.45 205.8 L316.54 205.81 L321.62 205.82 L326.71 205.83 L331.8 205.84" fill="none" stroke="#00ffff" stroke-width="1.1" stroke-dasharray="3.4 3.9" stroke-linejoin="round"/>
<path d="M28.29 39.36 L34.89 39.36 L31.59 45.11 Z" fill="none" stroke="#00ffff" stroke-width="1.1"/>
<path d="M33.38 86.23 L39.98 86.23 L36.68 91.98 Z" fill="none" stroke="#00ffff" stroke-width="1.1"/>
<path d="M38.47 115.68 L45.06 115.68 L41.77 121.43 Z" fill="none" stroke="#00ffff" stroke-width="1.1"/>
<path d="M43.55 141.39 L50.15 141.39 L46.85 147.14 Z" fill="none" stroke="#00ffff" stroke-width="1.1"/>
<path d="M48.64 160.26 L55.24 160.26 L51.94 166.01 Z" fill="none" stroke="#00ffff" stroke-width="1.1"/>
<path d="M53.73 172.04 L60.33 172.04 L57.03 177.79 Z" fill="none" stroke="#00ffff" stroke-width="1.1"/>
<path d="M58.82 179.97 L65.42 179.97 L62.12 185.72 Z" fill="none" stroke="#00ffff" stroke-width="1.1"/>
<path d="M63.91 188.62 L70.51 188.62 L67.21 194.37 Z" fill="none" stroke="#00ffff" stroke-width="1.1"/>
<path d="M69 193.19 L75.59 193.19 L72.3 198.94 Z" fill="none" stroke="#00ffff" stroke-width="1.1"/>
<path d="M74.08 196.07 L80.68 196.07 L77.38 201.82 Z" fill="none" stroke="#00ffff" stroke-width="1.1"/>
<path d="M79.17 197.99 L85.77 197.99 L82.47 203.74 Z" fill="none" stroke="#00ffff" stroke-width="1.1"/>
<path d="M84.26 199.08 L90.86 199.08 L87.56 204.83 Z" fill="none" stroke="#00ffff" stroke-width="1.1"/>
<path d="M89.35 199.68 L95.95 199.68 L92.65 205.43 Z" fill="none" stroke="#00ffff" stroke-width="1.1"/>
<path d="M94.44 200.16 L101.04 200.16 L97.74 205.91 Z" fill="none" stroke="#00ffff" stroke-width="1.1"/>
<path d="M99.53 200.52 L106.12 200.52 L102.83 206.27 Z" fill="none" stroke="#00ffff" stroke-width="1.1"/>
<path d="M104.61 200.88 L111.21 200.88 L107.91 206.63 Z" fill="none" stroke="#00ffff" stroke-width="1.1"/>
<path d="M109.7 201.12 L116.3 201.12 L113 206.87 Z" fill="none" stroke="#00ffff" stroke-width="1.1"/>
<path d="M114.79 201.32 L121.39 201.32 L118.09 207.07 Z" fill="none" stroke="#00ffff" stroke-width="1.1"/>
<path d="M119.88 201.5 L126.48 201.5 L123.18 207.25 Z" fill="none" stroke="#00ffff" stroke-width="1.1"/>
<path d="M124.97 201.67 L131.57 201.67 L128.27 207.42 Z" fill="none" stroke="#00ffff" stroke-width="1.1"/>
<path d="M130.06 201.83 L136.66 201.83 L133.36 207.58 Z" fill="none" stroke="#00ffff" stroke-width="1.1"/>
<path d="M135.14 201.97 L141.74 201.97 L138.44 207.72 Z" fill="none" stroke="#00ffff" stroke-width="1.1"/>
<path d="M140.23 202.11 L146.83 202.11 L143.53 207.86 Z" fill="none" stroke="#00ffff" stroke-width="1.1"/>
<path d="M145.32 202.23 L151.92 202.23 L148.62 207.98 Z" fill="none" stroke="#00ffff" stroke-width="1.1"/>
<path d="M150.41 202.35 L157.01 202.35 L153.71 208.1 Z" fill="none" stroke="#00ffff" stroke-width="1.1"/>
<path d="M155.5 202.45 L162.1 202.45 L158.8 208.2 Z" fill="none" stroke="#00ffff" stroke-width="1.1"/>
<path d="M160.59 202.55 L167.19 202.55 L163.89 208.3 Z" fill="none" stroke="#00ffff" stroke-width="1.1"/>
<path d="M165.67 202.64 L172.27 202.64 L168.97 208.39 Z" fill="none" stroke="#00ffff" stroke-width="1.1"/>
<path d="M170.76 202.73 L177.36 202.73 L174.06 208.48 Z" fill="none" stroke="#00ffff" stroke-width="1.1"/>
<path d="M175.85 202.81 L182.45 202.81 L179.15 208.56 Z" fill="none" stroke="#00ffff" stroke-width="1.1"/>
<path d="M180.94 202.88 L187.54 202.88 L184.24 208.63 Z" fill="none" stroke="#00ffff" stroke-width="1.1"/>
<path d="M186.03 202.95 L192.63 202.95 L189.33 208.7 Z" fill="none" stroke="#00ffff" stroke-width="1.1"/>
<path d="M191.12 203.01 L197.72 203.01 L194.42 208.76 Z" fill="none" stroke="#00ffff" stroke-width="1.1"/>
<path d="M196.2 203.07 L202.8 203.07 L199.5 208.82 Z" fill="none" stroke="#00ffff" stroke-width="1.1"/>
<path d="M201.29 203.12 L207.89 203.12 L204.59 208.87 Z" fill="none" stroke="#00ffff" stroke-width="1.1"/>
<path d="M206.38 203.17 L212.98 203.17 L209.68 208.92 Z" fill="none" stroke="#00ffff" stroke-width="1.1"/>
<path d="M211.47 203.21 L218.07 203.21 L214.77 208.96 Z" fill="none" stroke="#00ffff" stroke-width="1.1"/>
<path d="M216.56 203.26 L223.16 203.26 L219.86 209.01 Z" fill="none" stroke="#00ffff" stroke-width="1.1"/>
<path d="M221.65 203.3 L228.25 203.3 L224.95 209.05 Z" fill="none" stroke="#00ffff" stroke-width="1.1"/>
<path d="M226.73 203.33 L233.33 203.33 L230.03 209.08 Z" fill="none" stroke="#00ffff" stroke-width="1.1"/>
<path d="M231.82 203.37 L238.42 203.37 L235.12 209.12 Z" fill="none" stroke="#00ffff" stroke-width="1.1"/>
<path d="M236.91 203.4 L243.51 203.4 L240.21 209.15 Z" fill="none" stroke="#00ffff" stroke-width="1.1"/>
<path d="M242 203.43 L248.6 203.43 L245.3 209.18 Z" fill="none" stroke="#00ffff" stroke-width="1.1"/>
<path d="M247.09 203.45 L253.69 203.45 L250.39 209.2 Z" fill="none" stroke="#00ffff" stroke-width="1.1"/>
<path d="M252.18 203.48 L258.78 203.48 L255.48 209.23 Z" fill="none" stroke="#00ffff" stroke-width="1.1"/>
<path d="M257.26 203.5 L263.86 203.5 L260.56 209.25 Z" fill="none" stroke="#00ffff" stroke-width="1.1"/>
<path d="M262.35 203.52 L268.95 203.52 L265.65 209.27 Z" fill="none" stroke="#00ffff" stroke-width="1.1"/>
<path d="M267.44 203.54 L274.04 203.54 L270.74 209.29 Z" fill="none" stroke="#00ffff" stroke-width="1.1"/>
<path d="M272.53 203.56 L279.13 203.56 L275.83 209.31 Z" fill="none" stroke="#00ffff" stroke-width="1.1"/>
<path d="M277.62 203.58 L284.22 203.58 L280.92 209.33 Z" fill="none" stroke="#00ffff" stroke-width="1.1"/>
<path d="M282.7 203.59 L289.31 203.59 L286 209.34 Z" fill="none" stroke="#00ffff" stroke-width="1.1"/>
<path d="M287.79 203.61 L294.39 203.61 L291.09 209.36 Z" fill="none" stroke="#00ffff" stroke-width="1.1"/>
<path d="M292.88 203.62 L299.48 203.62 L296.18 209.37 Z" fill="none" stroke="#00ffff" stroke-width="1.1"/>
<path d="M297.97 203.63 L304.57 203.63 L301.27 209.38 Z" fill="none" stroke="#00ffff" stroke-width="1.1"/>
<path d="M303.06 203.64 L309.66 203.64 L306.36 209.39 Z" fill="none" stroke="#00ffff" stroke-width="1.1"/>
<path d="M308.15 203.65 L314.75 203.65 L311.45 209.4 Z" fill="none" stroke="#00ffff" stroke-width="1.1"/>
<path d="M313.24 203.66 L319.84 203.66 L316.54 209.41 Z" fill="none" stroke="#00ffff" stroke-width="1.1"/>
<path d="M318.32 203.67 L324.92 203.67 L321.62 209.42 Z" fill="none" stroke="#00ffff" stroke-width="1.1"/>
<path d="M323.41 203.68 L330.01 203.68 L326.71 209.43 Z" fill="none" stroke="#00ffff" stroke-width="1.1"/>
<path d="M328.5 203.69 L335.1 203.69 L331.8 209.44 Z" fill="none" stroke="#00ffff" stroke-width="1.1"/>
</g>
<rect x="26.5" y="4.5" width="305.3" height="240.35" fill="none" stroke="#747474" stroke-width="1"/>
<path d="M77.38 244.85 v-3.0 M77.38 4.5 v3.0 M128.27 244.85 v-3.0 M128.27 4.5 v3.0 M179.15 244.85 v-3.0 M179.15 4.5 v3.0 M230.03 244.85 v-3.0 M230.03 4.5 v3.0 M280.92 244.85 v-3.0 M280.92 4.5 v3.0 M26.5 220.81 h3.0 M331.8 220.81 h-3.0 M26.5 196.78 h3.0 M331.8 196.78 h-3.0 M26.5 172.75 h3.0 M331.8 172.75 h-3.0 M26.5 148.71 h3.0 M331.8 148.71 h-3.0 M26.5 124.67 h3.0 M331.8 124.67 h-3.0 M26.5 100.64 h3.0 M331.8 100.64 h-3.0 M26.5 76.61 h3.0 M331.8 76.61 h-3.0 M26.5 52.57 h3.0 M331.8 52.57 h-3.0 M26.5 28.53 h3.0 M331.8 28.53 h-3.0" stroke="#8e8e8e" stroke-width="1" fill="none"/>
<text x="26.5" y="258.05" font-size="9.55" text-anchor="middle" fill="#262626">0</text>
<text x="77.38" y="258.05" font-size="9.55" text-anchor="middle" fill="#262626">10</text>
<text x="128.27" y="258.05" font-size="9.55" text-anchor="middle" fill="#262626">20</text>
<text x="179.15" y="258.05" font-size="9.55" text-anchor="middle" fill="#262626">30</text>
<text x="230.03" y="258.05" font-size="9.55" text-anchor="middle" fill="#262626">40</text>
<text x="280.92" y="258.05" font-size="9.55" text-anchor="middle" fill="#262626">50</text>
<text x="331.8" y="258.05" font-size="9.55" text-anchor="middle" fill="#262626">60</text>
<text x="22.7" y="248.95" font-size="9.55" text-anchor="end" fill="#262626">800</text>
<text x="22.7" y="224.85" font-size="9.55" text-anchor="end" fill="#262626">1000</text>
<text x="22.7" y="200.75" font-size="9.55" text-anchor="end" fill="#262626">1200</text>
<text x="22.7" y="176.65" font-size="9.55" text-anchor="end" fill="#262626">1400</text>
<text x="22.7" y="152.55" font-size="9.55" text-anchor="end" fill="#262626">1600</text>
<text x="22.7" y="128.45" font-size="9.55" text-anchor="end" fill="#262626">1800</text>
<text x="22.7" y="104.35" font-size="9.55" text-anchor="end" fill="#262626">2000</text>
<text x="22.7" y="80.25" font-size="9.55" text-anchor="end" fill="#262626">2200</text>
<text x="22.7" y="56.15" font-size="9.55" text-anchor="end" fill="#262626">2400</text>
<text x="22.7" y="32.05" font-size="9.55" text-anchor="end" fill="#262626">2600</text>
<text x="22.7" y="7.95" font-size="9.55" text-anchor="end" fill="#262626">2800</text>
<text x="179.15" y="272.1" font-size="10.8" text-anchor="middle" fill="#262626">(a)</text>
<rect x="242.5" y="11.6" width="81.7" height="71.5" fill="#fff" stroke="#5a5a5a" stroke-width="1.15"/>
<path d="M245.5 18.35 H273.3" stroke="#ffff00" stroke-width="1.1" fill="none"/>
<path d="M257.5 15.05 L263.1 18.35 L257.5 21.65 Z" fill="none" stroke="#ffff00" stroke-width="1.1"/>
<text x="276" y="21.25" font-size="8.28" fill="#000">HCOA</text>
<path d="M245.5 29.93 H273.3" stroke="#000000" stroke-width="1.1" fill="none"/>
<path d="M259.4 26.13 L262.2 29.93 L259.4 33.73 L256.6 29.93 Z" fill="none" stroke="#000000" stroke-width="1.1"/>
<text x="276" y="32.83" font-size="8.28" fill="#000">BBPSO</text>
<path d="M245.5 41.51 H273.3" stroke="#00ff00" stroke-width="1.1" fill="none"/>
<circle cx="259.4" cy="41.51" r="3" fill="none" stroke="#00ff00" stroke-width="1.0"/>
<text x="276" y="44.41" font-size="8.28" fill="#000">PBBPSO</text>
<path d="M245.5 53.09 H273.3" stroke="#0000ff" stroke-width="1.1" fill="none"/>
<path d="M259.4 49.99 V56.19 M256.3 53.09 H262.5 M257.5 51.19 L261.3 54.99 M257.5 54.99 L261.3 51.19" fill="none" stroke="#0000ff" stroke-width="1.15"/>
<text x="276" y="55.99" font-size="8.28" fill="#000">DLSBBPSO</text>
<path d="M245.5 64.67 H273.3" stroke="#ff0000" stroke-width="1.1" stroke-dasharray="3.4 3.9" fill="none"/>
<path d="M259.4 62.17 V67.17 M256.9 64.67 H261.9" fill="none" stroke="#ff0000" stroke-width="1.1"/>
<text x="276" y="67.57" font-size="8.28" fill="#000">TBBPSO</text>
<path d="M245.5 76.25 H273.3" stroke="#00ffff" stroke-width="1.1" stroke-dasharray="3.4 3.9" fill="none"/>
<path d="M256.1 74.1 L262.7 74.1 L259.4 79.85 Z" fill="none" stroke="#00ffff" stroke-width="1.1"/>
<text x="276" y="79.15" font-size="8.28" fill="#000">ETBBPSO</text>
<g clip-path="none">
<path d="M384.3 232.47 L391.1 232.47 L397.9 232.47 L404.7 232.47 L411.5 232.47 L418.3 232.47 L425.1 232.47 L431.9 232.47 L438.7 232.47 L445.5 232.47 L452.3 232.47 L459.1 232.47 L465.9 232.47 L472.7 232.47 L479.5 232.47 L486.3 232.47 L493.1 232.47 L499.9 232.47 L506.7 232.47 L513.5 232.47 L520.3 232.47 L527.1 232.47 L533.9 232.47 L540.7 232.47 L547.5 232.47 L554.3 232.47 L561.1 232.47 L567.9 232.47 L574.7 232.47 L581.5 232.47 L588.3 232.47 L595.1 232.47 L601.9 232.47 L608.7 232.47 L615.5 232.47 L622.3 232.47 L629.1 232.47 L635.9 232.47 L642.7 232.47 L649.5 232.47 L656.3 232.47" fill="none" stroke="#ffff00" stroke-width="1.1" stroke-linejoin="round"/>
<path d="M382.4 229.17 L388 232.47 L382.4 235.77 Z" fill="none" stroke="#ffff00" stroke-width="1.1"/>
<path d="M389.2 229.17 L394.8 232.47 L389.2 235.77 Z" fill="none" stroke="#ffff00" stroke-width="1.1"/>
<path d="M396 229.17 L401.6 232.47 L396 235.77 Z" fill="none" stroke="#ffff00" stroke-width="1.1"/>
<path d="M402.8 229.17 L408.4 232.47 L402.8 235.77 Z" fill="none" stroke="#ffff00" stroke-width="1.1"/>
<path d="M409.6 229.17 L415.2 232.47 L409.6 235.77 Z" fill="none" stroke="#ffff00" stroke-width="1.1"/>
<path d="M416.4 229.17 L422 232.47 L416.4 235.77 Z" fill="none" stroke="#ffff00" stroke-width="1.1"/>
<path d="M423.2 229.17 L428.8 232.47 L423.2 235.77 Z" fill="none" stroke="#ffff00" stroke-width="1.1"/>
<path d="M430 229.17 L435.6 232.47 L430 235.77 Z" fill="none" stroke="#ffff00" stroke-width="1.1"/>
<path d="M436.8 229.17 L442.4 232.47 L436.8 235.77 Z" fill="none" stroke="#ffff00" stroke-width="1.1"/>
<path d="M443.6 229.17 L449.2 232.47 L443.6 235.77 Z" fill="none" stroke="#ffff00" stroke-width="1.1"/>
<path d="M450.4 229.17 L456 232.47 L450.4 235.77 Z" fill="none" stroke="#ffff00" stroke-width="1.1"/>
<path d="M457.2 229.17 L462.8 232.47 L457.2 235.77 Z" fill="none" stroke="#ffff00" stroke-width="1.1"/>
<path d="M464 229.17 L469.6 232.47 L464 235.77 Z" fill="none" stroke="#ffff00" stroke-width="1.1"/>
<path d="M470.8 229.17 L476.4 232.47 L470.8 235.77 Z" fill="none" stroke="#ffff00" stroke-width="1.1"/>
<path d="M477.6 229.17 L483.2 232.47 L477.6 235.77 Z" fill="none" stroke="#ffff00" stroke-width="1.1"/>
<path d="M484.4 229.17 L490 232.47 L484.4 235.77 Z" fill="none" stroke="#ffff00" stroke-width="1.1"/>
<path d="M491.2 229.17 L496.8 232.47 L491.2 235.77 Z" fill="none" stroke="#ffff00" stroke-width="1.1"/>
<path d="M498 229.17 L503.6 232.47 L498 235.77 Z" fill="none" stroke="#ffff00" stroke-width="1.1"/>
<path d="M504.8 229.17 L510.4 232.47 L504.8 235.77 Z" fill="none" stroke="#ffff00" stroke-width="1.1"/>
<path d="M511.6 229.17 L517.2 232.47 L511.6 235.77 Z" fill="none" stroke="#ffff00" stroke-width="1.1"/>
<path d="M518.4 229.17 L524 232.47 L518.4 235.77 Z" fill="none" stroke="#ffff00" stroke-width="1.1"/>
<path d="M525.2 229.17 L530.8 232.47 L525.2 235.77 Z" fill="none" stroke="#ffff00" stroke-width="1.1"/>
<path d="M532 229.17 L537.6 232.47 L532 235.77 Z" fill="none" stroke="#ffff00" stroke-width="1.1"/>
<path d="M538.8 229.17 L544.4 232.47 L538.8 235.77 Z" fill="none" stroke="#ffff00" stroke-width="1.1"/>
<path d="M545.6 229.17 L551.2 232.47 L545.6 235.77 Z" fill="none" stroke="#ffff00" stroke-width="1.1"/>
<path d="M552.4 229.17 L558 232.47 L552.4 235.77 Z" fill="none" stroke="#ffff00" stroke-width="1.1"/>
<path d="M559.2 229.17 L564.8 232.47 L559.2 235.77 Z" fill="none" stroke="#ffff00" stroke-width="1.1"/>
<path d="M566 229.17 L571.6 232.47 L566 235.77 Z" fill="none" stroke="#ffff00" stroke-width="1.1"/>
<path d="M572.8 229.17 L578.4 232.47 L572.8 235.77 Z" fill="none" stroke="#ffff00" stroke-width="1.1"/>
<path d="M579.6 229.17 L585.2 232.47 L579.6 235.77 Z" fill="none" stroke="#ffff00" stroke-width="1.1"/>
<path d="M586.4 229.17 L592 232.47 L586.4 235.77 Z" fill="none" stroke="#ffff00" stroke-width="1.1"/>
<path d="M593.2 229.17 L598.8 232.47 L593.2 235.77 Z" fill="none" stroke="#ffff00" stroke-width="1.1"/>
<path d="M600 229.17 L605.6 232.47 L600 235.77 Z" fill="none" stroke="#ffff00" stroke-width="1.1"/>
<path d="M606.8 229.17 L612.4 232.47 L606.8 235.77 Z" fill="none" stroke="#ffff00" stroke-width="1.1"/>
<path d="M613.6 229.17 L619.2 232.47 L613.6 235.77 Z" fill="none" stroke="#ffff00" stroke-width="1.1"/>
<path d="M620.4 229.17 L626 232.47 L620.4 235.77 Z" fill="none" stroke="#ffff00" stroke-width="1.1"/>
<path d="M627.2 229.17 L632.8 232.47 L627.2 235.77 Z" fill="none" stroke="#ffff00" stroke-width="1.1"/>
<path d="M634 229.17 L639.6 232.47 L634 235.77 Z" fill="none" stroke="#ffff00" stroke-width="1.1"/>
<path d="M640.8 229.17 L646.4 232.47 L640.8 235.77 Z" fill="none" stroke="#ffff00" stroke-width="1.1"/>
<path d="M647.6 229.17 L653.2 232.47 L647.6 235.77 Z" fill="none" stroke="#ffff00" stroke-width="1.1"/>
<path d="M654.4 229.17 L660 232.47 L654.4 235.77 Z" fill="none" stroke="#ffff00" stroke-width="1.1"/>
<path d="M384.3 83.82 L391.1 83.82 L397.9 83.82 L404.7 83.82 L411.5 83.82 L418.3 83.82 L425.1 83.82 L431.9 83.82 L438.7 83.82 L445.5 83.82 L452.3 83.82 L459.1 83.82 L465.9 83.82 L472.7 83.82 L479.5 83.82 L486.3 83.82 L493.1 83.82 L499.9 83.82 L506.7 83.82 L513.5 83.82 L520.3 83.82 L527.1 83.82 L533.9 83.82 L540.7 83.82 L547.5 83.82 L554.3 83.82 L561.1 83.82 L567.9 83.82 L574.7 83.82 L581.5 83.82 L588.3 83.82 L595.1 83.82 L601.9 83.82 L608.7 83.82 L615.5 83.82 L622.3 83.82 L629.1 83.82 L635.9 83.82 L642.7 83.82 L649.5 83.82 L656.3 83.82" fill="none" stroke="#000000" stroke-width="1.1" stroke-linejoin="round"/>
<path d="M384.3 80.02 L387.1 83.82 L384.3 87.62 L381.5 83.82 Z" fill="none" stroke="#000000" stroke-width="1.1"/>
<path d="M391.1 80.02 L393.9 83.82 L391.1 87.62 L388.3 83.82 Z" fill="none" stroke="#000000" stroke-width="1.1"/>
<path d="M397.9 80.02 L400.7 83.82 L397.9 87.62 L395.1 83.82 Z" fill="none" stroke="#000000" stroke-width="1.1"/>
<path d="M404.7 80.02 L407.5 83.82 L404.7 87.62 L401.9 83.82 Z" fill="none" stroke="#000000" stroke-width="1.1"/>
<path d="M411.5 80.02 L414.3 83.82 L411.5 87.62 L408.7 83.82 Z" fill="none" stroke="#000000" stroke-width="1.1"/>
<path d="M418.3 80.02 L421.1 83.82 L418.3 87.62 L415.5 83.82 Z" fill="none" stroke="#000000" stroke-width="1.1"/>
<path d="M425.1 80.02 L427.9 83.82 L425.1 87.62 L422.3 83.82 Z" fill="none" stroke="#000000" stroke-width="1.1"/>
<path d="M431.9 80.02 L434.7 83.82 L431.9 87.62 L429.1 83.82 Z" fill="none" stroke="#000000" stroke-width="1.1"/>
<path d="M438.7 80.02 L441.5 83.82 L438.7 87.62 L435.9 83.82 Z" fill="none" stroke="#000000" stroke-width="1.1"/>
<path d="M445.5 80.02 L448.3 83.82 L445.5 87.62 L442.7 83.82 Z" fill="none" stroke="#000000" stroke-width="1.1"/>
<path d="M452.3 80.02 L455.1 83.82 L452.3 87.62 L449.5 83.82 Z" fill="none" stroke="#000000" stroke-width="1.1"/>
<path d="M459.1 80.02 L461.9 83.82 L459.1 87.62 L456.3 83.82 Z" fill="none" stroke="#000000" stroke-width="1.1"/>
<path d="M465.9 80.02 L468.7 83.82 L465.9 87.62 L463.1 83.82 Z" fill="none" stroke="#000000" stroke-width="1.1"/>
<path d="M472.7 80.02 L475.5 83.82 L472.7 87.62 L469.9 83.82 Z" fill="none" stroke="#000000" stroke-width="1.1"/>
<path d="M479.5 80.02 L482.3 83.82 L479.5 87.62 L476.7 83.82 Z" fill="none" stroke="#000000" stroke-width="1.1"/>
<path d="M486.3 80.02 L489.1 83.82 L486.3 87.62 L483.5 83.82 Z" fill="none" stroke="#000000" stroke-width="1.1"/>
<path d="M493.1 80.02 L495.9 83.82 L493.1 87.62 L490.3 83.82 Z" fill="none" stroke="#000000" stroke-width="1.1"/>
<path d="M499.9 80.02 L502.7 83.82 L499.9 87.62 L497.1 83.82 Z" fill="none" stroke="#000000" stroke-width="1.1"/>
<path d="M506.7 80.02 L509.5 83.82 L506.7 87.62 L503.9 83.82 Z" fill="none" stroke="#000000" stroke-width="1.1"/>
<path d="M513.5 80.02 L516.3 83.82 L513.5 87.62 L510.7 83.82 Z" fill="none" stroke="#000000" stroke-width="1.1"/>
<path d="M520.3 80.02 L523.1 83.82 L520.3 87.62 L517.5 83.82 Z" fill="none" stroke="#000000" stroke-width="1.1"/>
<path d="M527.1 80.02 L529.9 83.82 L527.1 87.62 L524.3 83.82 Z" fill="none" stroke="#000000" stroke-width="1.1"/>
<path d="M533.9 80.02 L536.7 83.82 L533.9 87.62 L531.1 83.82 Z" fill="none" stroke="#000000" stroke-width="1.1"/>
<path d="M540.7 80.02 L543.5 83.82 L540.7 87.62 L537.9 83.82 Z" fill="none" stroke="#000000" stroke-width="1.1"/>
<path d="M547.5 80.02 L550.3 83.82 L547.5 87.62 L544.7 83.82 Z" fill="none" stroke="#000000" stroke-width="1.1"/>
<path d="M554.3 80.02 L557.1 83.82 L554.3 87.62 L551.5 83.82 Z" fill="none" stroke="#000000" stroke-width="1.1"/>
<path d="M561.1 80.02 L563.9 83.82 L561.1 87.62 L558.3 83.82 Z" fill="none" stroke="#000000" stroke-width="1.1"/>
<path d="M567.9 80.02 L570.7 83.82 L567.9 87.62 L565.1 83.82 Z" fill="none" stroke="#000000" stroke-width="1.1"/>
<path d="M574.7 80.02 L577.5 83.82 L574.7 87.62 L571.9 83.82 Z" fill="none" stroke="#000000" stroke-width="1.1"/>
<path d="M581.5 80.02 L584.3 83.82 L581.5 87.62 L578.7 83.82 Z" fill="none" stroke="#000000" stroke-width="1.1"/>
<path d="M588.3 80.02 L591.1 83.82 L588.3 87.62 L585.5 83.82 Z" fill="none" stroke="#000000" stroke-width="1.1"/>
<path d="M595.1 80.02 L597.9 83.82 L595.1 87.62 L592.3 83.82 Z" fill="none" stroke="#000000" stroke-width="1.1"/>
<path d="M601.9 80.02 L604.7 83.82 L601.9 87.62 L599.1 83.82 Z" fill="none" stroke="#000000" stroke-width="1.1"/>
<path d="M608.7 80.02 L611.5 83.82 L608.7 87.62 L605.9 83.82 Z" fill="none" stroke="#000000" stroke-width="1.1"/>
<path d="M615.5 80.02 L618.3 83.82 L615.5 87.62 L612.7 83.82 Z" fill="none" stroke="#000000" stroke-width="1.1"/>
<path d="M622.3 80.02 L625.1 83.82 L622.3 87.62 L619.5 83.82 Z" fill="none" stroke="#000000" stroke-width="1.1"/>
<path d="M629.1 80.02 L631.9 83.82 L629.1 87.62 L626.3 83.82 Z" fill="none" stroke="#000000" stroke-width="1.1"/>
<path d="M635.9 80.02 L638.7 83.82 L635.9 87.62 L633.1 83.82 Z" fill="none" stroke="#000000" stroke-width="1.1"/>
<path d="M642.7 80.02 L645.5 83.82 L642.7 87.62 L639.9 83.82 Z" fill="none" stroke="#000000" stroke-width="1.1"/>
<path d="M649.5 80.02 L652.3 83.82 L649.5 87.62 L646.7 83.82 Z" fill="none" stroke="#000000" stroke-width="1.1"/>
<path d="M656.3 80.02 L659.1 83.82 L656.3 87.62 L653.5 83.82 Z" fill="none" stroke="#000000" stroke-width="1.1"/>
<path d="M384.3 55.21 L391.1 55.09 L397.9 55.21 L404.7 55.93 L411.5 56.18 L418.3 56.66 L425.1 56.9 L431.9 56.9 L438.7 56.9 L445.5 56.9 L452.3 56.9 L459.1 56.9 L465.9 56.9 L472.7 56.9 L479.5 56.9 L486.3 56.9 L493.1 56.9 L499.9 56.9 L506.7 56.9 L513.5 56.9 L520.3 56.9 L527.1 56.9 L533.9 56.9 L540.7 56.9 L547.5 56.9 L554.3 56.9 L561.1 56.9 L567.9 56.9 L574.7 56.9 L581.5 56.9 L588.3 56.9 L595.1 56.9 L601.9 56.9 L608.7 56.9 L615.5 56.9 L622.3 56.9 L629.1 56.9 L635.9 56.9 L642.7 56.9 L649.5 56.9 L656.3 56.9" fill="none" stroke="#00ff00" stroke-width="1.1" stroke-linejoin="round"/>
<circle cx="384.3" cy="55.21" r="3" fill="none" stroke="#00ff00" stroke-width="1.0"/>
<circle cx="391.1" cy="55.09" r="3" fill="none" stroke="#00ff00" stroke-width="1.0"/>
<circle cx="397.9" cy="55.21" r="3" fill="none" stroke="#00ff00" stroke-width="1.0"/>
<circle cx="404.7" cy="55.93" r="3" fill="none" stroke="#00ff00" stroke-width="1.0"/>
<circle cx="411.5" cy="56.18" r="3" fill="none" stroke="#00ff00" stroke-width="1.0"/>
<circle cx="418.3" cy="56.66" r="3" fill="none" stroke="#00ff00" stroke-width="1.0"/>
<circle cx="425.1" cy="56.9" r="3" fill="none" stroke="#00ff00" stroke-width="1.0"/>
<circle cx="431.9" cy="56.9" r="3" fill="none" stroke="#00ff00" stroke-width="1.0"/>
<circle cx="438.7" cy="56.9" r="3" fill="none" stroke="#00ff00" stroke-width="1.0"/>
<circle cx="445.5" cy="56.9" r="3" fill="none" stroke="#00ff00" stroke-width="1.0"/>
<circle cx="452.3" cy="56.9" r="3" fill="none" stroke="#00ff00" stroke-width="1.0"/>
<circle cx="459.1" cy="56.9" r="3" fill="none" stroke="#00ff00" stroke-width="1.0"/>
<circle cx="465.9" cy="56.9" r="3" fill="none" stroke="#00ff00" stroke-width="1.0"/>
<circle cx="472.7" cy="56.9" r="3" fill="none" stroke="#00ff00" stroke-width="1.0"/>
<circle cx="479.5" cy="56.9" r="3" fill="none" stroke="#00ff00" stroke-width="1.0"/>
<circle cx="486.3" cy="56.9" r="3" fill="none" stroke="#00ff00" stroke-width="1.0"/>
<circle cx="493.1" cy="56.9" r="3" fill="none" stroke="#00ff00" stroke-width="1.0"/>
<circle cx="499.9" cy="56.9" r="3" fill="none" stroke="#00ff00" stroke-width="1.0"/>
<circle cx="506.7" cy="56.9" r="3" fill="none" stroke="#00ff00" stroke-width="1.0"/>
<circle cx="513.5" cy="56.9" r="3" fill="none" stroke="#00ff00" stroke-width="1.0"/>
<circle cx="520.3" cy="56.9" r="3" fill="none" stroke="#00ff00" stroke-width="1.0"/>
<circle cx="527.1" cy="56.9" r="3" fill="none" stroke="#00ff00" stroke-width="1.0"/>
<circle cx="533.9" cy="56.9" r="3" fill="none" stroke="#00ff00" stroke-width="1.0"/>
<circle cx="540.7" cy="56.9" r="3" fill="none" stroke="#00ff00" stroke-width="1.0"/>
<circle cx="547.5" cy="56.9" r="3" fill="none" stroke="#00ff00" stroke-width="1.0"/>
<circle cx="554.3" cy="56.9" r="3" fill="none" stroke="#00ff00" stroke-width="1.0"/>
<circle cx="561.1" cy="56.9" r="3" fill="none" stroke="#00ff00" stroke-width="1.0"/>
<circle cx="567.9" cy="56.9" r="3" fill="none" stroke="#00ff00" stroke-width="1.0"/>
<circle cx="574.7" cy="56.9" r="3" fill="none" stroke="#00ff00" stroke-width="1.0"/>
<circle cx="581.5" cy="56.9" r="3" fill="none" stroke="#00ff00" stroke-width="1.0"/>
<circle cx="588.3" cy="56.9" r="3" fill="none" stroke="#00ff00" stroke-width="1.0"/>
<circle cx="595.1" cy="56.9" r="3" fill="none" stroke="#00ff00" stroke-width="1.0"/>
<circle cx="601.9" cy="56.9" r="3" fill="none" stroke="#00ff00" stroke-width="1.0"/>
<circle cx="608.7" cy="56.9" r="3" fill="none" stroke="#00ff00" stroke-width="1.0"/>
<circle cx="615.5" cy="56.9" r="3" fill="none" stroke="#00ff00" stroke-width="1.0"/>
<circle cx="622.3" cy="56.9" r="3" fill="none" stroke="#00ff00" stroke-width="1.0"/>
<circle cx="629.1" cy="56.9" r="3" fill="none" stroke="#00ff00" stroke-width="1.0"/>
<circle cx="635.9" cy="56.9" r="3" fill="none" stroke="#00ff00" stroke-width="1.0"/>
<circle cx="642.7" cy="56.9" r="3" fill="none" stroke="#00ff00" stroke-width="1.0"/>
<circle cx="649.5" cy="56.9" r="3" fill="none" stroke="#00ff00" stroke-width="1.0"/>
<circle cx="656.3" cy="56.9" r="3" fill="none" stroke="#00ff00" stroke-width="1.0"/>
<path d="M384.3 116.26 L391.1 116.26 L397.9 116.26 L404.7 116.26 L411.5 116.26 L418.3 116.26 L425.1 116.26 L431.9 116.26 L438.7 116.26 L445.5 116.26 L452.3 116.26 L459.1 116.26 L465.9 116.26 L472.7 116.26 L479.5 116.26 L486.3 116.26 L493.1 116.26 L499.9 116.26 L506.7 116.26 L513.5 116.26 L520.3 116.26 L527.1 116.26 L533.9 116.26 L540.7 116.26 L547.5 116.26 L554.3 116.26 L561.1 116.26 L567.9 116.26 L574.7 116.26 L581.5 116.26 L588.3 116.26 L595.1 116.26 L601.9 116.26 L608.7 116.26 L615.5 116.26 L622.3 116.26 L629.1 116.26 L635.9 116.26 L642.7 116.26 L649.5 116.26 L656.3 116.26" fill="none" stroke="#0000ff" stroke-width="1.1" stroke-linejoin="round"/>
<path d="M384.3 113.16 V119.36 M381.2 116.26 H387.4 M382.4 114.36 L386.2 118.16 M382.4 118.16 L386.2 114.36" fill="none" stroke="#0000ff" stroke-width="1.15"/>
<path d="M391.1 113.16 V119.36 M388 116.26 H394.2 M389.2 114.36 L393 118.16 M389.2 118.16 L393 114.36" fill="none" stroke="#0000ff" stroke-width="1.15"/>
<path d="M397.9 113.16 V119.36 M394.8 116.26 H401 M396 114.36 L399.8 118.16 M396 118.16 L399.8 114.36" fill="none" stroke="#0000ff" stroke-width="1.15"/>
<path d="M404.7 113.16 V119.36 M401.6 116.26 H407.8 M402.8 114.36 L406.6 118.16 M402.8 118.16 L406.6 114.36" fill="none" stroke="#0000ff" stroke-width="1.15"/>
<path d="M411.5 113.16 V119.36 M408.4 116.26 H414.6 M409.6 114.36 L413.4 118.16 M409.6 118.16 L413.4 114.36" fill="none" stroke="#0000ff" stroke-width="1.15"/>
<path d="M418.3 113.16 V119.36 M415.2 116.26 H421.4 M416.4 114.36 L420.2 118.16 M416.4 118.16 L420.2 114.36" fill="none" stroke="#0000ff" stroke-width="1.15"/>
<path d="M425.1 113.16 V119.36 M422 116.26 H428.2 M423.2 114.36 L427 118.16 M423.2 118.16 L427 114.36" fill="none" stroke="#0000ff" stroke-width="1.15"/>
<path d="M431.9 113.16 V119.36 M428.8 116.26 H435 M430 114.36 L433.8 118.16 M430 118.16 L433.8 114.36" fill="none" stroke="#0000ff" stroke-width="1.15"/>
<path d="M438.7 113.16 V119.36 M435.6 116.26 H441.8 M436.8 114.36 L440.6 118.16 M436.8 118.16 L440.6 114.36" fill="none" stroke="#0000ff" stroke-width="1.15"/>
<path d="M445.5 113.16 V119.36 M442.4 116.26 H448.6 M443.6 114.36 L447.4 118.16 M443.6 118.16 L447.4 114.36" fill="none" stroke="#0000ff" stroke-width="1.15"/>
<path d="M452.3 113.16 V119.36 M449.2 116.26 H455.4 M450.4 114.36 L454.2 118.16 M450.4 118.16 L454.2 114.36" fill="none" stroke="#0000ff" stroke-width="1.15"/>
<path d="M459.1 113.16 V119.36 M456 116.26 H462.2 M457.2 114.36 L461 118.16 M457.2 118.16 L461 114.36" fill="none" stroke="#0000ff" stroke-width="1.15"/>
<path d="M465.9 113.16 V119.36 M462.8 116.26 H469 M464 114.36 L467.8 118.16 M464 118.16 L467.8 114.36" fill="none" stroke="#0000ff" stroke-width="1.15"/>
<path d="M472.7 113.16 V119.36 M469.6 116.26 H475.8 M470.8 114.36 L474.6 118.16 M470.8 118.16 L474.6 114.36" fill="none" stroke="#0000ff" stroke-width="1.15"/>
<path d="M479.5 113.16 V119.36 M476.4 116.26 H482.6 M477.6 114.36 L481.4 118.16 M477.6 118.16 L481.4 114.36" fill="none" stroke="#0000ff" stroke-width="1.15"/>
<path d="M486.3 113.16 V119.36 M483.2 116.26 H489.4 M484.4 114.36 L488.2 118.16 M484.4 118.16 L488.2 114.36" fill="none" stroke="#0000ff" stroke-width="1.15"/>
<path d="M493.1 113.16 V119.36 M490 116.26 H496.2 M491.2 114.36 L495 118.16 M491.2 118.16 L495 114.36" fill="none" stroke="#0000ff" stroke-width="1.15"/>
<path d="M499.9 113.16 V119.36 M496.8 116.26 H503 M498 114.36 L501.8 118.16 M498 118.16 L501.8 114.36" fill="none" stroke="#0000ff" stroke-width="1.15"/>
<path d="M506.7 113.16 V119.36 M503.6 116.26 H509.8 M504.8 114.36 L508.6 118.16 M504.8 118.16 L508.6 114.36" fill="none" stroke="#0000ff" stroke-width="1.15"/>
<path d="M513.5 113.16 V119.36 M510.4 116.26 H516.6 M511.6 114.36 L515.4 118.16 M511.6 118.16 L515.4 114.36" fill="none" stroke="#0000ff" stroke-width="1.15"/>
<path d="M520.3 113.16 V119.36 M517.2 116.26 H523.4 M518.4 114.36 L522.2 118.16 M518.4 118.16 L522.2 114.36" fill="none" stroke="#0000ff" stroke-width="1.15"/>
<path d="M527.1 113.16 V119.36 M524 116.26 H530.2 M525.2 114.36 L529 118.16 M525.2 118.16 L529 114.36" fill="none" stroke="#0000ff" stroke-width="1.15"/>
<path d="M533.9 113.16 V119.36 M530.8 116.26 H537 M532 114.36 L535.8 118.16 M532 118.16 L535.8 114.36" fill="none" stroke="#0000ff" stroke-width="1.15"/>
<path d="M540.7 113.16 V119.36 M537.6 116.26 H543.8 M538.8 114.36 L542.6 118.16 M538.8 118.16 L542.6 114.36" fill="none" stroke="#0000ff" stroke-width="1.15"/>
<path d="M547.5 113.16 V119.36 M544.4 116.26 H550.6 M545.6 114.36 L549.4 118.16 M545.6 118.16 L549.4 114.36" fill="none" stroke="#0000ff" stroke-width="1.15"/>
<path d="M554.3 113.16 V119.36 M551.2 116.26 H557.4 M552.4 114.36 L556.2 118.16 M552.4 118.16 L556.2 114.36" fill="none" stroke="#0000ff" stroke-width="1.15"/>
<path d="M561.1 113.16 V119.36 M558 116.26 H564.2 M559.2 114.36 L563 118.16 M559.2 118.16 L563 114.36" fill="none" stroke="#0000ff" stroke-width="1.15"/>
<path d="M567.9 113.16 V119.36 M564.8 116.26 H571 M566 114.36 L569.8 118.16 M566 118.16 L569.8 114.36" fill="none" stroke="#0000ff" stroke-width="1.15"/>
<path d="M574.7 113.16 V119.36 M571.6 116.26 H577.8 M572.8 114.36 L576.6 118.16 M572.8 118.16 L576.6 114.36" fill="none" stroke="#0000ff" stroke-width="1.15"/>
<path d="M581.5 113.16 V119.36 M578.4 116.26 H584.6 M579.6 114.36 L583.4 118.16 M579.6 118.16 L583.4 114.36" fill="none" stroke="#0000ff" stroke-width="1.15"/>
<path d="M588.3 113.16 V119.36 M585.2 116.26 H591.4 M586.4 114.36 L590.2 118.16 M586.4 118.16 L590.2 114.36" fill="none" stroke="#0000ff" stroke-width="1.15"/>
<path d="M595.1 113.16 V119.36 M592 116.26 H598.2 M593.2 114.36 L597 118.16 M593.2 118.16 L597 114.36" fill="none" stroke="#0000ff" stroke-width="1.15"/>
<path d="M601.9 113.16 V119.36 M598.8 116.26 H605 M600 114.36 L603.8 118.16 M600 118.16 L603.8 114.36" fill="none" stroke="#0000ff" stroke-width="1.15"/>
<path d="M608.7 113.16 V119.36 M605.6 116.26 H611.8 M606.8 114.36 L610.6 118.16 M606.8 118.16 L610.6 114.36" fill="none" stroke="#0000ff" stroke-width="1.15"/>
<path d="M615.5 113.16 V119.36 M612.4 116.26 H618.6 M613.6 114.36 L617.4 118.16 M613.6 118.16 L617.4 114.36" fill="none" stroke="#0000ff" stroke-width="1.15"/>
<path d="M622.3 113.16 V119.36 M619.2 116.26 H625.4 M620.4 114.36 L624.2 118.16 M620.4 118.16 L624.2 114.36" fill="none" stroke="#0000ff" stroke-width="1.15"/>
<path d="M629.1 113.16 V119.36 M626 116.26 H632.2 M627.2 114.36 L631 118.16 M627.2 118.16 L631 114.36" fill="none" stroke="#0000ff" stroke-width="1.15"/>
<path d="M635.9 113.16 V119.36 M632.8 116.26 H639 M634 114.36 L637.8 118.16 M634 118.16 L637.8 114.36" fill="none" stroke="#0000ff" stroke-width="1.15"/>
<path d="M642.7 113.16 V119.36 M639.6 116.26 H645.8 M640.8 114.36 L644.6 118.16 M640.8 118.16 L644.6 114.36" fill="none" stroke="#0000ff" stroke-width="1.15"/>
<path d="M649.5 113.16 V119.36 M646.4 116.26 H652.6 M647.6 114.36 L651.4 118.16 M647.6 118.16 L651.4 114.36" fill="none" stroke="#0000ff" stroke-width="1.15"/>
<path d="M656.3 113.16 V119.36 M653.2 116.26 H659.4 M654.4 114.36 L658.2 118.16 M654.4 118.16 L658.2 114.36" fill="none" stroke="#0000ff" stroke-width="1.15"/>
<path d="M384.3 24.57 L391.1 24.57 L397.9 25.29 L404.7 25.29 L411.5 25.29 L418.3 25.29 L425.1 25.29 L431.9 25.29 L438.7 25.29 L445.5 25.29 L452.3 25.29 L459.1 25.29 L465.9 25.29 L472.7 25.29 L479.5 25.29 L486.3 25.29 L493.1 25.29 L499.9 25.29 L506.7 25.29 L513.5 25.29 L520.3 25.29 L527.1 25.29 L533.9 25.29 L540.7 26.37 L547.5 26.37 L554.3 26.37 L561.1 26.37 L567.9 26.37 L574.7 26.37 L581.5 26.37 L588.3 26.37 L595.1 26.37 L601.9 26.37 L608.7 26.37 L615.5 26.37 L622.3 26.37 L629.1 26.37 L635.9 26.37 L642.7 26.37 L649.5 26.37 L656.3 26.37" fill="none" stroke="#ff0000" stroke-width="1.1" stroke-dasharray="3.4 3.9" stroke-linejoin="round"/>
<path d="M384.3 22.07 V27.07 M381.8 24.57 H386.8" fill="none" stroke="#ff0000" stroke-width="1.1"/>
<path d="M391.1 22.07 V27.07 M388.6 24.57 H393.6" fill="none" stroke="#ff0000" stroke-width="1.1"/>
<path d="M397.9 22.79 V27.79 M395.4 25.29 H400.4" fill="none" stroke="#ff0000" stroke-width="1.1"/>
<path d="M404.7 22.79 V27.79 M402.2 25.29 H407.2" fill="none" stroke="#ff0000" stroke-width="1.1"/>
<path d="M411.5 22.79 V27.79 M409 25.29 H414" fill="none" stroke="#ff0000" stroke-width="1.1"/>
<path d="M418.3 22.79 V27.79 M415.8 25.29 H420.8" fill="none" stroke="#ff0000" stroke-width="1.1"/>
<path d="M425.1 22.79 V27.79 M422.6 25.29 H427.6" fill="none" stroke="#ff0000" stroke-width="1.1"/>
<path d="M431.9 22.79 V27.79 M429.4 25.29 H434.4" fill="none" stroke="#ff0000" stroke-width="1.1"/>
<path d="M438.7 22.79 V27.79 M436.2 25.29 H441.2" fill="none" stroke="#ff0000" stroke-width="1.1"/>
<path d="M445.5 22.79 V27.79 M443 25.29 H448" fill="none" stroke="#ff0000" stroke-width="1.1"/>
<path d="M452.3 22.79 V27.79 M449.8 25.29 H454.8" fill="none" stroke="#ff0000" stroke-width="1.1"/>
<path d="M459.1 22.79 V27.79 M456.6 25.29 H461.6" fill="none" stroke="#ff0000" stroke-width="1.1"/>
<path d="M465.9 22.79 V27.79 M463.4 25.29 H468.4" fill="none" stroke="#ff0000" stroke-width="1.1"/>
<path d="M472.7 22.79 V27.79 M470.2 25.29 H475.2" fill="none" stroke="#ff0000" stroke-width="1.1"/>
<path d="M479.5 22.79 V27.79 M477 25.29 H482" fill="none" stroke="#ff0000" stroke-width="1.1"/>
<path d="M486.3 22.79 V27.79 M483.8 25.29 H488.8" fill="none" stroke="#ff0000" stroke-width="1.1"/>
<path d="M493.1 22.79 V27.79 M490.6 25.29 H495.6" fill="none" stroke="#ff0000" stroke-width="1.1"/>
<path d="M499.9 22.79 V27.79 M497.4 25.29 H502.4" fill="none" stroke="#ff0000" stroke-width="1.1"/>
<path d="M506.7 22.79 V27.79 M504.2 25.29 H509.2" fill="none" stroke="#ff0000" stroke-width="1.1"/>
<path d="M513.5 22.79 V27.79 M511 25.29 H516" fill="none" stroke="#ff0000" stroke-width="1.1"/>
<path d="M520.3 22.79 V27.79 M517.8 25.29 H522.8" fill="none" stroke="#ff0000" stroke-width="1.1"/>
<path d="M527.1 22.79 V27.79 M524.6 25.29 H529.6" fill="none" stroke="#ff0000" stroke-width="1.1"/>
<path d="M533.9 22.79 V27.79 M531.4 25.29 H536.4" fill="none" stroke="#ff0000" stroke-width="1.1"/>
<path d="M540.7 23.87 V28.87 M538.2 26.37 H543.2" fill="none" stroke="#ff0000" stroke-width="1.1"/>
<path d="M547.5 23.87 V28.87 M545 26.37 H550" fill="none" stroke="#ff0000" stroke-width="1.1"/>
<path d="M554.3 23.87 V28.87 M551.8 26.37 H556.8" fill="none" stroke="#ff0000" stroke-width="1.1"/>
<path d="M561.1 23.87 V28.87 M558.6 26.37 H563.6" fill="none" stroke="#ff0000" stroke-width="1.1"/>
<path d="M567.9 23.87 V28.87 M565.4 26.37 H570.4" fill="none" stroke="#ff0000" stroke-width="1.1"/>
<path d="M574.7 23.87 V28.87 M572.2 26.37 H577.2" fill="none" stroke="#ff0000" stroke-width="1.1"/>
<path d="M581.5 23.87 V28.87 M579 26.37 H584" fill="none" stroke="#ff0000" stroke-width="1.1"/>
<path d="M588.3 23.87 V28.87 M585.8 26.37 H590.8" fill="none" stroke="#ff0000" stroke-width="1.1"/>
<path d="M595.1 23.87 V28.87 M592.6 26.37 H597.6" fill="none" stroke="#ff0000" stroke-width="1.1"/>
<path d="M601.9 23.87 V28.87 M599.4 26.37 H604.4" fill="none" stroke="#ff0000" stroke-width="1.1"/>
<path d="M608.7 23.87 V28.87 M606.2 26.37 H611.2" fill="none" stroke="#ff0000" stroke-width="1.1"/>
<path d="M615.5 23.87 V28.87 M613 26.37 H618" fill="none" stroke="#ff0000" stroke-width="1.1"/>
<path d="M622.3 23.87 V28.87 M619.8 26.37 H624.8" fill="none" stroke="#ff0000" stroke-width="1.1"/>
<path d="M629.1 23.87 V28.87 M626.6 26.37 H631.6" fill="none" stroke="#ff0000" stroke-width="1.1"/>
<path d="M635.9 23.87 V28.87 M633.4 26.37 H638.4" fill="none" stroke="#ff0000" stroke-width="1.1"/>
<path d="M642.7 23.87 V28.87 M640.2 26.37 H645.2" fill="none" stroke="#ff0000" stroke-width="1.1"/>
<path d="M649.5 23.87 V28.87 M647 26.37 H652" fill="none" stroke="#ff0000" stroke-width="1.1"/>
<path d="M656.3 23.87 V28.87 M653.8 26.37 H658.8" fill="none" stroke="#ff0000" stroke-width="1.1"/>
<path d="M384.3 47.4 L391.1 47.4 L397.9 47.4 L404.7 47.4 L411.5 47.4 L418.3 47.4 L425.1 47.4 L431.9 47.4 L438.7 47.4 L445.5 47.4 L452.3 47.4 L459.1 47.4 L465.9 47.4 L472.7 47.4 L479.5 47.4 L486.3 47.4 L493.1 47.4 L499.9 47.4 L506.7 47.4 L513.5 47.4 L520.3 47.4 L527.1 47.4 L533.9 47.4 L540.7 47.4 L547.5 47.4 L554.3 47.4 L561.1 47.4 L567.9 47.4 L574.7 47.4 L581.5 47.4 L588.3 47.4 L595.1 47.4 L601.9 47.4 L608.7 47.4 L615.5 47.4 L622.3 47.4 L629.1 47.4 L635.9 47.4 L642.7 47.4 L649.5 47.4 L656.3 47.4" fill="none" stroke="#00ffff" stroke-width="1.1" stroke-dasharray="3.4 3.9" stroke-linejoin="round"/>
<path d="M381 45.25 L387.6 45.25 L384.3 51 Z" fill="none" stroke="#00ffff" stroke-width="1.1"/>
<path d="M387.8 45.25 L394.4 45.25 L391.1 51 Z" fill="none" stroke="#00ffff" stroke-width="1.1"/>
<path d="M394.6 45.25 L401.2 45.25 L397.9 51 Z" fill="none" stroke="#00ffff" stroke-width="1.1"/>
<path d="M401.4 45.25 L408 45.25 L404.7 51 Z" fill="none" stroke="#00ffff" stroke-width="1.1"/>
<path d="M408.2 45.25 L414.8 45.25 L411.5 51 Z" fill="none" stroke="#00ffff" stroke-width="1.1"/>
<path d="M415 45.25 L421.6 45.25 L418.3 51 Z" fill="none" stroke="#00ffff" stroke-width="1.1"/>
<path d="M421.8 45.25 L428.4 45.25 L425.1 51 Z" fill="none" stroke="#00ffff" stroke-width="1.1"/>
<path d="M428.6 45.25 L435.2 45.25 L431.9 51 Z" fill="none" stroke="#00ffff" stroke-width="1.1"/>
<path d="M435.4 45.25 L442 45.25 L438.7 51 Z" fill="none" stroke="#00ffff" stroke-width="1.1"/>
<path d="M442.2 45.25 L448.8 45.25 L445.5 51 Z" fill="none" stroke="#00ffff" stroke-width="1.1"/>
<path d="M449 45.25 L455.6 45.25 L452.3 51 Z" fill="none" stroke="#00ffff" stroke-width="1.1"/>
<path d="M455.8 45.25 L462.4 45.25 L459.1 51 Z" fill="none" stroke="#00ffff" stroke-width="1.1"/>
<path d="M462.6 45.25 L469.2 45.25 L465.9 51 Z" fill="none" stroke="#00ffff" stroke-width="1.1"/>
<path d="M469.4 45.25 L476 45.25 L472.7 51 Z" fill="none" stroke="#00ffff" stroke-width="1.1"/>
<path d="M476.2 45.25 L482.8 45.25 L479.5 51 Z" fill="none" stroke="#00ffff" stroke-width="1.1"/>
<path d="M483 45.25 L489.6 45.25 L486.3 51 Z" fill="none" stroke="#00ffff" stroke-width="1.1"/>
<path d="M489.8 45.25 L496.4 45.25 L493.1 51 Z" fill="none" stroke="#00ffff" stroke-width="1.1"/>
<path d="M496.6 45.25 L503.2 45.25 L499.9 51 Z" fill="none" stroke="#00ffff" stroke-width="1.1"/>
<path d="M503.4 45.25 L510 45.25 L506.7 51 Z" fill="none" stroke="#00ffff" stroke-width="1.1"/>
<path d="M510.2 45.25 L516.8 45.25 L513.5 51 Z" fill="none" stroke="#00ffff" stroke-width="1.1"/>
<path d="M517 45.25 L523.6 45.25 L520.3 51 Z" fill="none" stroke="#00ffff" stroke-width="1.1"/>
<path d="M523.8 45.25 L530.4 45.25 L527.1 51 Z" fill="none" stroke="#00ffff" stroke-width="1.1"/>
<path d="M530.6 45.25 L537.2 45.25 L533.9 51 Z" fill="none" stroke="#00ffff" stroke-width="1.1"/>
<path d="M537.4 45.25 L544 45.25 L540.7 51 Z" fill="none" stroke="#00ffff" stroke-width="1.1"/>
<path d="M544.2 45.25 L550.8 45.25 L547.5 51 Z" fill="none" stroke="#00ffff" stroke-width="1.1"/>
<path d="M551 45.25 L557.6 45.25 L554.3 51 Z" fill="none" stroke="#00ffff" stroke-width="1.1"/>
<path d="M557.8 45.25 L564.4 45.25 L561.1 51 Z" fill="none" stroke="#00ffff" stroke-width="1.1"/>
<path d="M564.6 45.25 L571.2 45.25 L567.9 51 Z" fill="none" stroke="#00ffff" stroke-width="1.1"/>
<path d="M571.4 45.25 L578 45.25 L574.7 51 Z" fill="none" stroke="#00ffff" stroke-width="1.1"/>
<path d="M578.2 45.25 L584.8 45.25 L581.5 51 Z" fill="none" stroke="#00ffff" stroke-width="1.1"/>
<path d="M585 45.25 L591.6 45.25 L588.3 51 Z" fill="none" stroke="#00ffff" stroke-width="1.1"/>
<path d="M591.8 45.25 L598.4 45.25 L595.1 51 Z" fill="none" stroke="#00ffff" stroke-width="1.1"/>
<path d="M598.6 45.25 L605.2 45.25 L601.9 51 Z" fill="none" stroke="#00ffff" stroke-width="1.1"/>
<path d="M605.4 45.25 L612 45.25 L608.7 51 Z" fill="none" stroke="#00ffff" stroke-width="1.1"/>
<path d="M612.2 45.25 L618.8 45.25 L615.5 51 Z" fill="none" stroke="#00ffff" stroke-width="1.1"/>
<path d="M619 45.25 L625.6 45.25 L622.3 51 Z" fill="none" stroke="#00ffff" stroke-width="1.1"/>
<path d="M625.8 45.25 L632.4 45.25 L629.1 51 Z" fill="none" stroke="#00ffff" stroke-width="1.1"/>
<path d="M632.6 45.25 L639.2 45.25 L635.9 51 Z" fill="none" stroke="#00ffff" stroke-width="1.1"/>
<path d="M639.4 45.25 L646 45.25 L642.7 51 Z" fill="none" stroke="#00ffff" stroke-width="1.1"/>
<path d="M646.2 45.25 L652.8 45.25 L649.5 51 Z" fill="none" stroke="#00ffff" stroke-width="1.1"/>
<path d="M653 45.25 L659.6 45.25 L656.3 51 Z" fill="none" stroke="#00ffff" stroke-width="1.1"/>
</g>
<rect x="377.5" y="4.5" width="306" height="240.35" fill="none" stroke="#747474" stroke-width="1"/>
<path d="M445.5 244.85 v-3.0 M445.5 4.5 v3.0 M513.5 244.85 v-3.0 M513.5 4.5 v3.0 M581.5 244.85 v-3.0 M581.5 4.5 v3.0 M649.5 244.85 v-3.0 M649.5 4.5 v3.0 M377.5 220.81 h3.0 M683.5 220.81 h-3.0 M377.5 196.78 h3.0 M683.5 196.78 h-3.0 M377.5 172.75 h3.0 M683.5 172.75 h-3.0 M377.5 148.71 h3.0 M683.5 148.71 h-3.0 M377.5 124.67 h3.0 M683.5 124.67 h-3.0 M377.5 100.64 h3.0 M683.5 100.64 h-3.0 M377.5 76.61 h3.0 M683.5 76.61 h-3.0 M377.5 52.57 h3.0 M683.5 52.57 h-3.0 M377.5 28.53 h3.0 M683.5 28.53 h-3.0" stroke="#8e8e8e" stroke-width="1" fill="none"/>
<text x="377.5" y="258.05" font-size="9.55" text-anchor="middle" fill="#262626">60</text>
<text x="445.5" y="258.05" font-size="9.55" text-anchor="middle" fill="#262626">70</text>
<text x="513.5" y="258.05" font-size="9.55" text-anchor="middle" fill="#262626">80</text>
<text x="581.5" y="258.05" font-size="9.55" text-anchor="middle" fill="#262626">90</text>
<text x="649.5" y="258.05" font-size="9.55" text-anchor="middle" fill="#262626">100</text>
<text x="374" y="248.95" font-size="9.55" text-anchor="end" fill="#262626">960</text>
<text x="374" y="224.85" font-size="9.55" text-anchor="end" fill="#262626">980</text>
<text x="374" y="200.75" font-size="9.55" text-anchor="end" fill="#262626">1000</text>
<text x="374" y="176.65" font-size="9.55" text-anchor="end" fill="#262626">1020</text>
<text x="374" y="152.55" font-size="9.55" text-anchor="end" fill="#262626">1040</text>
<text x="374" y="128.45" font-size="9.55" text-anchor="end" fill="#262626">1060</text>
<text x="374" y="104.35" font-size="9.55" text-anchor="end" fill="#262626">1080</text>
<text x="374" y="80.25" font-size="9.55" text-anchor="end" fill="#262626">1100</text>
<text x="374" y="56.15" font-size="9.55" text-anchor="end" fill="#262626">1120</text>
<text x="374" y="32.05" font-size="9.55" text-anchor="end" fill="#262626">1140</text>
<text x="374" y="7.95" font-size="9.55" text-anchor="end" fill="#262626">1160</text>
<text x="530.5" y="272.1" font-size="10.8" text-anchor="middle" fill="#262626">(b)</text>
<rect x="594.5" y="11.6" width="81.7" height="71.5" fill="#fff" stroke="#5a5a5a" stroke-width="1.15"/>
<path d="M597.5 18.35 H625.3" stroke="#ffff00" stroke-width="1.1" fill="none"/>
<path d="M609.5 15.05 L615.1 18.35 L609.5 21.65 Z" fill="none" stroke="#ffff00" stroke-width="1.1"/>
<text x="628" y="21.25" font-size="8.28" fill="#000">HCOA</text>
<path d="M597.5 29.93 H625.3" stroke="#000000" stroke-width="1.1" fill="none"/>
<path d="M611.4 26.13 L614.2 29.93 L611.4 33.73 L608.6 29.93 Z" fill="none" stroke="#000000" stroke-width="1.1"/>
<text x="628" y="32.83" font-size="8.28" fill="#000">BBPSO</text>
<path d="M597.5 41.51 H625.3" stroke="#00ff00" stroke-width="1.1" fill="none"/>
<circle cx="611.4" cy="41.51" r="3" fill="none" stroke="#00ff00" stroke-width="1.0"/>
<text x="628" y="44.41" font-size="8.28" fill="#000">PBBPSO</text>
<path d="M597.5 53.09 H625.3" stroke="#0000ff" stroke-width="1.1" fill="none"/>
<path d="M611.4 49.99 V56.19 M608.3 53.09 H614.5 M609.5 51.19 L613.3 54.99 M609.5 54.99 L613.3 51.19" fill="none" stroke="#0000ff" stroke-width="1.15"/>
<text x="628" y="55.99" font-size="8.28" fill="#000">DLSBBPSO</text>
<path d="M597.5 64.67 H625.3" stroke="#ff0000" stroke-width="1.1" stroke-dasharray="3.4 3.9" fill="none"/>
<path d="M611.4 62.17 V67.17 M608.9 64.67 H613.9" fill="none" stroke="#ff0000" stroke-width="1.1"/>
<text x="628" y="67.57" font-size="8.28" fill="#000">TBBPSO</text>
<path d="M597.5 76.25 H625.3" stroke="#00ffff" stroke-width="1.1" stroke-dasharray="3.4 3.9" fill="none"/>
<path d="M608.1 74.1 L614.7 74.1 L611.4 79.85 Z" fill="none" stroke="#00ffff" stroke-width="1.1"/>
<text x="628" y="79.15" font-size="8.28" fill="#000">ETBBPSO</text>
</svg>
</body></html>
